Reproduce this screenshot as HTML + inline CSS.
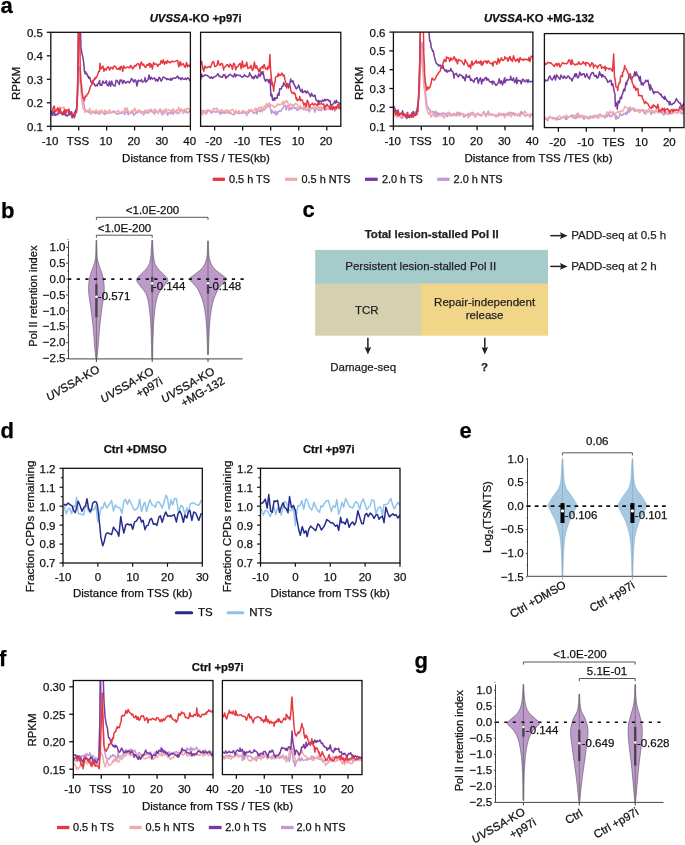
<!DOCTYPE html>
<html><head><meta charset="utf-8"><style>
html,body{margin:0;padding:0;background:#fff;}
body{width:685px;height:845px;overflow:hidden;font-family:"Liberation Sans", sans-serif;}
svg{display:block;will-change:transform;}
text{stroke:currentColor;stroke-width:0.25px;}
</style></head><body>
<svg width="685" height="845" viewBox="0 0 685 845" font-family='"Liberation Sans", sans-serif'><text x="0.5" y="12.6" font-size="22" font-weight="bold" fill="#000">a</text>
<clipPath id="cA1"><rect x="50.80" y="32.30" width="139.60" height="94.00"/></clipPath>
<g clip-path="url(#cA1)">
<path d="M51.20 111.21 L52.30 114.05 L53.40 115.60 L54.50 114.40 L54.70 113.47 L55.60 114.66 L56.70 114.82 L57.80 115.08 L58.90 111.52 L59.50 111.12 L60.00 113.60 L61.10 113.04 L62.20 114.16 L63.30 113.19 L64.20 111.57 L64.40 111.34 L65.50 115.04 L66.60 111.32 L67.70 110.68 L68.80 110.22 L68.90 111.82 L69.90 112.12 L71.00 111.73 L72.10 112.35 L73.20 113.04 L73.70 113.70 L74.30 113.75 L75.40 111.72 L76.50 108.25 L76.60 111.41 L77.60 95.82 L77.80 94.88 L78.70 72.78 L79.00 67.90 L79.80 67.69 L80.20 69.38 L80.90 81.67 L81.40 83.24 L82.00 90.64 L83.10 99.28 L84.20 105.70 L84.90 110.16 L85.30 109.50 L86.40 110.98 L87.50 111.51 L87.90 110.39 L88.60 112.48 L89.70 110.76 L90.80 114.33 L91.90 111.31 L93.00 112.93 L94.10 112.11 L95.20 113.42 L96.30 111.47 L97.40 113.63 L98.50 112.24 L99.60 114.12 L100.00 113.31 L100.70 112.67 L101.80 111.46 L102.90 113.46 L104.00 113.06 L105.10 114.57 L106.20 111.93 L107.30 113.13 L108.40 113.06 L109.50 112.75 L110.60 112.64 L111.70 112.59 L112.80 111.56 L113.90 111.01 L115.00 111.80 L116.10 113.07 L117.20 114.25 L118.30 113.54 L119.40 113.63 L120.50 113.25 L121.60 113.14 L122.70 112.45 L123.80 113.21 L124.90 114.49 L126.00 111.75 L127.10 111.26 L128.20 114.70 L129.30 112.45 L130.40 113.38 L131.50 113.24 L132.60 110.62 L133.70 115.24 L134.80 114.37 L135.90 112.28 L137.00 113.02 L138.10 112.19 L139.20 110.86 L140.00 111.85 L140.30 112.49 L141.40 113.44 L142.50 112.91 L143.60 112.06 L144.70 113.74 L145.80 110.99 L146.90 113.00 L148.00 113.41 L149.10 111.58 L150.20 109.63 L151.30 110.78 L152.40 112.26 L153.50 112.63 L154.60 113.95 L155.70 110.63 L156.80 111.94 L157.90 112.77 L159.00 111.72 L160.10 108.84 L161.20 112.96 L162.30 114.92 L163.40 113.21 L164.50 110.71 L165.60 111.36 L166.70 112.18 L167.80 115.13 L168.90 112.69 L170.00 112.03 L171.10 113.90 L172.20 111.77 L173.30 114.29 L174.40 110.97 L175.50 111.24 L176.60 112.79 L177.70 113.70 L178.80 112.70 L179.90 112.23 L181.00 109.47 L182.10 110.91 L183.20 111.04 L184.30 111.13 L185.40 112.58 L186.50 111.38 L187.60 112.84 L188.70 111.91 L189.80 111.37 L190.50 111.95" fill="none" stroke="#c29ad3" stroke-width="1.5" stroke-linejoin="round"/>
<path d="M51.20 109.82 L52.30 111.63 L53.40 110.58 L54.50 109.94 L54.70 111.76 L55.60 110.36 L56.70 109.64 L57.80 112.07 L58.90 108.81 L59.50 107.66 L60.00 107.13 L61.10 107.39 L62.20 108.09 L63.30 107.50 L64.20 107.18 L64.40 108.37 L65.50 109.67 L66.60 109.77 L67.70 112.13 L67.80 111.40 L68.80 110.47 L69.90 113.01 L71.00 112.74 L71.30 112.59 L72.10 115.48 L73.20 113.88 L74.30 112.23 L75.40 112.77 L76.50 110.19 L77.20 103.15 L77.60 96.40 L78.20 84.19 L78.70 76.61 L79.00 72.24 L79.80 78.77 L80.20 82.76 L80.90 90.74 L81.40 95.90 L82.00 101.18 L83.10 109.00 L84.20 108.74 L84.90 112.49 L85.30 110.48 L86.40 110.86 L87.50 111.46 L87.90 111.91 L88.60 111.18 L89.70 108.31 L90.80 113.55 L91.90 111.35 L93.00 110.85 L94.10 112.57 L95.20 110.86 L96.30 109.75 L97.40 112.26 L98.50 112.15 L99.60 110.49 L100.00 112.68 L100.70 112.05 L101.80 110.05 L102.90 113.83 L104.00 111.86 L105.10 109.99 L106.20 112.06 L107.30 111.61 L108.40 112.70 L109.50 109.63 L110.60 112.76 L111.70 112.61 L112.80 112.26 L113.90 112.13 L115.00 113.04 L116.10 112.24 L117.20 111.44 L118.30 110.15 L119.40 112.70 L120.50 112.51 L121.60 111.59 L122.70 111.37 L123.80 112.11 L124.90 107.82 L126.00 111.53 L127.10 107.80 L128.20 111.39 L129.30 112.45 L130.40 113.53 L131.50 110.40 L132.60 111.56 L133.70 110.88 L134.80 108.02 L135.90 111.90 L137.00 110.90 L138.10 110.99 L139.20 109.64 L140.00 110.81 L140.30 110.97 L141.40 112.54 L142.50 111.23 L143.60 115.44 L144.70 110.30 L145.80 110.48 L146.90 110.75 L148.00 109.75 L149.10 112.80 L150.20 111.65 L151.30 109.12 L152.40 110.93 L153.50 112.30 L154.60 108.91 L155.70 110.97 L156.80 110.45 L157.90 113.83 L159.00 111.30 L160.10 110.20 L161.20 110.00 L162.30 113.22 L163.40 110.11 L164.50 113.73 L165.60 108.65 L166.70 110.45 L167.80 110.38 L168.90 109.76 L170.00 110.40 L171.10 111.59 L172.20 109.79 L173.30 108.77 L174.40 112.43 L175.50 112.59 L176.60 109.74 L177.70 111.04 L178.80 107.24 L179.90 112.00 L181.00 108.86 L182.10 109.88 L183.20 113.46 L184.30 108.93 L185.40 110.62 L186.50 109.17 L187.60 108.14 L188.70 109.04 L189.80 110.92 L190.50 108.84" fill="none" stroke="#f0a9ae" stroke-width="1.5" stroke-linejoin="round"/>
<path d="M51.20 111.55 L52.30 115.19 L53.40 112.19 L54.50 111.41 L54.70 115.08 L55.60 115.28 L56.70 114.33 L57.80 114.02 L58.30 112.71 L58.90 111.91 L60.00 111.64 L61.10 112.57 L61.80 112.30 L62.20 114.67 L63.30 114.52 L64.40 111.68 L65.40 115.36 L65.50 114.09 L66.60 115.67 L67.70 115.95 L68.80 113.96 L68.90 109.94 L69.90 114.76 L71.00 111.71 L72.10 117.80 L72.50 114.25 L73.20 114.77 L74.30 117.76 L75.40 111.16 L76.50 109.36 L77.00 105.24 L77.60 83.99 L77.80 76.12 L78.40 21.36 L78.70 19.67 L79.80 20.78 L80.20 21.29 L80.80 41.44 L80.90 47.59 L82.00 53.47 L83.10 58.14 L84.20 67.46 L84.30 70.79 L85.30 73.93 L85.50 71.61 L86.40 73.57 L87.30 74.41 L87.50 76.18 L88.50 76.16 L88.60 78.29 L89.70 77.33 L90.20 78.65 L90.80 81.65 L91.90 82.85 L92.60 82.21 L93.00 83.62 L94.10 83.72 L95.00 85.33 L95.20 86.06 L96.30 85.24 L97.30 86.02 L97.40 83.92 L98.50 83.63 L99.60 80.52 L100.00 85.31 L100.70 84.57 L101.80 85.30 L102.90 81.01 L104.00 83.28 L105.10 83.02 L106.20 80.73 L107.30 85.29 L108.40 85.71 L109.50 81.25 L110.00 84.17 L110.60 86.32 L111.70 81.09 L112.80 84.78 L113.90 85.68 L115.00 86.04 L116.10 80.30 L117.20 80.69 L118.30 82.77 L119.40 84.36 L120.00 80.01 L120.50 80.79 L121.60 79.94 L122.70 83.58 L123.80 80.47 L124.90 82.21 L125.00 82.32 L126.00 83.14 L127.10 81.76 L128.20 81.53 L129.30 82.87 L130.40 81.60 L131.50 78.48 L132.60 79.66 L133.70 82.08 L134.80 80.66 L135.00 79.79 L135.90 80.78 L137.00 86.07 L138.10 80.16 L139.20 81.03 L140.30 80.93 L141.40 79.61 L142.50 82.10 L143.60 81.46 L144.70 80.61 L145.00 77.54 L145.80 82.04 L146.90 81.11 L148.00 79.55 L149.10 74.93 L150.20 79.45 L151.30 77.36 L152.40 79.00 L153.50 78.44 L154.60 77.81 L155.70 80.94 L156.80 79.30 L157.90 81.18 L159.00 77.27 L160.10 78.55 L161.20 81.18 L162.30 79.30 L162.80 77.43 L163.40 77.10 L164.50 77.54 L165.60 78.35 L166.70 79.61 L167.80 78.59 L168.90 79.57 L170.00 79.64 L171.00 78.31 L171.10 80.36 L172.20 79.46 L173.30 77.92 L174.40 78.02 L175.50 78.34 L176.60 77.15 L177.70 76.17 L178.80 78.64 L179.90 77.75 L181.00 79.73 L182.10 77.74 L183.20 79.02 L184.30 79.26 L185.40 78.16 L186.50 79.39 L187.60 77.85 L188.70 78.43 L189.80 80.65 L190.50 79.97" fill="none" stroke="#773a9e" stroke-width="1.5" stroke-linejoin="round"/>
<path d="M51.20 111.62 L52.30 111.33 L53.40 107.07 L54.50 106.18 L54.70 109.71 L55.60 111.50 L56.70 109.95 L57.80 107.65 L58.30 109.56 L58.90 113.43 L60.00 108.46 L61.10 113.45 L61.80 112.69 L62.20 112.48 L63.30 112.66 L64.40 109.80 L65.40 110.28 L65.50 113.96 L66.60 110.18 L67.70 110.49 L68.80 109.00 L68.90 110.81 L69.90 113.47 L71.00 114.84 L71.90 114.03 L72.10 114.08 L73.20 114.43 L74.30 114.40 L74.90 115.91 L75.40 112.70 L76.50 112.74 L76.60 110.38 L77.50 92.09 L77.60 88.46 L78.20 65.14 L78.60 19.15 L78.70 17.72 L79.60 18.57 L79.80 35.52 L80.20 66.27 L80.90 82.69 L81.00 81.68 L82.00 92.22 L83.10 98.26 L84.20 98.07 L84.30 100.83 L85.30 95.95 L86.10 96.30 L86.40 96.24 L87.50 93.68 L87.90 93.81 L88.60 92.55 L89.70 89.23 L90.20 87.07 L90.80 86.00 L91.90 84.54 L92.60 80.43 L93.00 83.05 L94.10 79.01 L95.00 79.25 L95.20 77.37 L96.30 77.92 L97.30 75.50 L97.40 75.45 L98.50 71.62 L99.10 71.62 L99.60 71.32 L99.90 63.14 L100.70 68.92 L101.00 68.93 L101.80 67.74 L102.90 66.03 L104.00 71.28 L105.10 68.63 L106.20 70.08 L107.30 67.46 L108.40 66.67 L109.50 70.05 L110.00 69.38 L110.60 67.40 L111.70 67.48 L112.80 68.97 L113.90 66.25 L115.00 66.11 L116.10 67.50 L117.20 69.38 L118.30 69.02 L119.40 67.70 L120.00 69.81 L120.50 66.99 L121.60 66.27 L122.70 71.45 L123.80 66.09 L124.90 68.03 L126.00 67.86 L127.10 66.97 L128.20 67.08 L129.30 67.86 L130.00 67.54 L130.40 65.40 L131.50 66.40 L132.60 68.88 L133.70 67.57 L134.80 65.33 L135.90 66.16 L137.00 64.12 L138.10 63.48 L139.20 64.81 L140.00 68.69 L140.30 64.54 L141.40 61.95 L142.50 65.31 L143.60 64.16 L144.70 66.72 L145.80 67.55 L146.90 64.55 L148.00 65.30 L149.10 63.34 L150.00 67.16 L150.20 63.54 L151.30 64.75 L152.40 68.91 L153.50 62.60 L154.60 64.45 L155.70 63.85 L156.80 64.62 L157.00 64.59 L157.90 66.28 L159.00 64.19 L160.10 64.16 L161.20 60.53 L162.30 63.31 L163.40 59.86 L164.50 64.33 L165.60 61.74 L166.70 63.40 L167.50 60.51 L167.80 61.91 L168.90 61.83 L170.00 62.90 L171.10 61.87 L172.20 61.17 L173.30 61.76 L174.40 61.45 L175.50 61.14 L176.60 60.79 L177.70 60.53 L178.80 66.92 L179.90 62.25 L180.50 61.68 L181.00 65.59 L182.10 64.35 L183.20 63.65 L184.30 66.06 L185.40 67.46 L186.50 62.52 L187.60 66.78 L188.70 65.28 L189.80 66.43 L190.50 63.35" fill="none" stroke="#e8383f" stroke-width="1.5" stroke-linejoin="round"/>
</g>
<clipPath id="cA2"><rect x="200.60" y="32.30" width="140.20" height="94.00"/></clipPath>
<g clip-path="url(#cA2)">
<path d="M200.50 112.71 L201.60 113.44 L202.70 110.77 L203.80 110.66 L204.90 112.29 L206.00 114.08 L207.10 112.40 L208.20 110.41 L209.30 110.94 L210.40 111.89 L211.50 113.20 L212.60 111.99 L213.70 111.57 L214.80 111.77 L215.90 112.30 L217.00 111.16 L218.10 112.13 L219.20 112.50 L220.30 114.27 L221.40 112.13 L222.50 113.46 L223.60 110.94 L224.70 113.37 L225.80 112.51 L226.90 111.64 L228.00 112.32 L229.10 113.53 L230.20 111.99 L231.30 113.73 L232.40 114.39 L233.50 114.54 L234.60 114.56 L235.70 110.91 L236.80 112.98 L237.90 111.71 L239.00 113.80 L240.10 112.72 L241.20 112.93 L242.30 113.26 L243.40 111.94 L244.50 112.85 L245.60 111.83 L246.70 115.43 L247.80 112.21 L248.90 112.84 L250.00 110.60 L251.10 110.79 L252.20 111.44 L253.30 113.35 L254.40 113.15 L255.50 112.35 L256.60 111.01 L257.10 114.11 L257.70 110.29 L258.80 110.22 L259.90 111.65 L261.00 109.48 L261.80 110.89 L262.10 111.63 L263.20 109.76 L264.30 109.82 L265.40 108.80 L266.50 107.34 L266.60 104.10 L267.60 105.76 L268.70 106.40 L269.50 103.65 L269.80 106.03 L270.90 110.68 L271.30 113.45 L272.00 110.32 L273.10 111.89 L273.70 113.13 L274.20 113.52 L275.30 111.08 L276.40 115.23 L277.20 111.80 L277.50 113.95 L278.60 111.23 L279.70 110.94 L280.80 111.48 L281.90 109.50 L283.00 108.00 L284.10 105.80 L284.30 106.11 L285.20 105.34 L286.30 110.04 L287.40 105.73 L288.50 104.69 L289.10 110.26 L289.60 109.79 L290.70 107.68 L291.80 109.22 L292.90 107.09 L294.00 107.40 L295.00 108.79 L295.10 108.66 L296.20 107.66 L297.30 110.43 L298.40 109.38 L299.50 108.71 L299.70 107.02 L300.60 108.76 L301.70 108.22 L302.80 108.57 L303.90 109.74 L305.00 108.01 L306.10 109.14 L307.20 109.87 L308.30 109.34 L309.40 111.88 L310.50 106.72 L311.60 108.93 L312.70 107.53 L313.80 109.01 L314.90 112.38 L316.00 107.07 L317.10 108.85 L318.20 110.11 L319.30 109.43 L320.00 110.52 L320.40 107.33 L321.50 110.60 L322.60 108.10 L323.70 107.77 L324.80 110.07 L325.90 109.95 L327.00 108.39 L328.10 108.28 L329.20 109.08 L330.30 109.32 L331.40 109.11 L332.50 108.02 L333.60 106.34 L334.70 111.03 L335.80 109.56 L336.90 107.73 L338.00 107.30 L339.10 108.44 L340.20 108.79 L341.00 106.58" fill="none" stroke="#c29ad3" stroke-width="1.5" stroke-linejoin="round"/>
<path d="M200.50 111.19 L201.60 110.33 L202.70 115.20 L203.80 111.24 L204.90 110.83 L206.00 111.18 L207.10 109.90 L208.20 109.63 L209.30 111.35 L210.40 110.04 L211.50 111.76 L212.60 110.38 L213.70 108.26 L214.80 108.91 L215.90 109.55 L217.00 108.02 L218.10 110.64 L219.20 110.37 L220.30 112.05 L221.40 109.62 L222.50 110.50 L223.60 111.61 L224.70 111.85 L225.80 109.47 L226.90 112.95 L228.00 110.04 L229.10 112.54 L230.20 110.51 L231.30 110.37 L232.40 109.25 L233.50 110.79 L234.60 114.24 L235.70 110.13 L236.80 113.11 L237.90 112.84 L239.00 110.51 L240.10 112.58 L241.20 112.97 L242.30 110.68 L243.40 110.38 L244.50 112.65 L245.60 111.62 L246.70 114.05 L247.80 111.76 L248.90 109.62 L250.00 111.14 L251.10 109.23 L252.20 111.52 L253.30 111.10 L254.40 109.22 L255.50 108.22 L255.90 110.52 L256.60 108.65 L257.70 110.61 L258.80 107.37 L259.90 108.12 L261.00 107.52 L261.80 106.69 L262.10 111.67 L263.20 109.70 L264.30 106.00 L265.40 107.39 L266.50 103.30 L266.60 107.42 L267.60 106.39 L268.70 103.57 L269.50 102.92 L269.80 104.13 L270.90 105.82 L271.30 105.21 L272.00 104.90 L273.10 106.25 L273.70 106.32 L274.20 107.85 L275.30 106.62 L276.40 106.54 L277.50 103.67 L278.40 105.19 L278.60 105.08 L279.70 104.37 L280.80 104.38 L281.90 103.59 L283.00 101.38 L283.10 104.70 L284.10 104.04 L285.20 101.38 L286.10 102.37 L286.30 100.53 L287.40 101.62 L288.50 104.60 L289.10 107.84 L289.60 105.58 L290.70 103.63 L291.80 106.05 L292.90 104.95 L293.80 104.75 L294.00 106.25 L295.10 103.61 L296.20 103.77 L297.30 104.45 L298.40 108.16 L299.50 107.03 L299.70 106.11 L300.60 106.05 L301.70 107.93 L302.80 108.79 L303.90 106.14 L305.00 107.55 L306.10 110.46 L307.20 108.12 L308.30 106.89 L309.40 107.85 L310.50 107.59 L311.60 108.40 L312.70 108.02 L313.80 106.91 L314.90 107.48 L316.00 108.20 L317.10 106.80 L318.20 107.89 L319.30 106.59 L320.00 109.56 L320.40 110.01 L321.50 106.73 L322.60 109.12 L323.70 108.22 L324.80 108.16 L325.90 107.72 L327.00 108.47 L328.10 109.51 L329.20 106.51 L330.30 109.60 L331.40 107.89 L332.50 106.79 L333.60 108.26 L334.70 109.23 L335.80 108.28 L336.90 108.84 L338.00 108.02 L339.10 107.78 L340.20 109.91 L341.00 107.30" fill="none" stroke="#f0a9ae" stroke-width="1.5" stroke-linejoin="round"/>
<path d="M200.50 79.89 L201.60 74.34 L202.70 76.81 L203.80 75.84 L204.90 74.82 L206.00 75.37 L207.10 75.49 L208.20 76.23 L209.30 77.08 L210.40 78.18 L211.50 76.82 L212.60 78.36 L213.70 77.25 L214.80 76.68 L215.90 76.16 L217.00 74.90 L218.10 73.90 L219.20 76.46 L220.30 76.34 L221.40 77.19 L222.50 77.24 L223.60 74.58 L223.70 75.51 L224.70 74.77 L225.80 78.29 L226.90 76.36 L228.00 76.70 L229.10 74.92 L230.20 74.25 L231.30 75.36 L232.40 76.12 L233.50 77.01 L234.60 73.63 L235.70 76.68 L236.80 74.64 L237.90 75.15 L239.00 75.42 L240.10 75.20 L241.20 76.64 L242.30 77.30 L243.40 76.34 L244.50 74.81 L245.60 76.37 L246.70 76.25 L247.80 77.01 L248.90 75.97 L249.70 72.77 L250.00 74.34 L251.10 75.42 L252.20 78.12 L253.30 76.82 L253.60 78.71 L254.40 77.67 L255.50 75.19 L256.60 77.26 L257.10 78.11 L257.70 77.58 L258.80 73.89 L259.90 76.57 L260.70 74.50 L261.00 71.87 L262.10 74.16 L263.00 71.58 L263.20 72.94 L264.30 78.54 L265.40 81.31 L266.50 79.71 L267.60 79.42 L268.70 82.63 L268.90 80.15 L269.80 80.64 L270.10 79.07 L270.90 96.06 L271.10 93.60 L272.00 94.83 L272.50 99.78 L273.10 100.39 L274.20 97.73 L274.90 100.23 L275.30 98.14 L276.40 98.12 L277.20 98.13 L277.50 95.40 L278.60 93.07 L279.00 95.31 L279.70 88.79 L280.80 89.04 L281.40 88.78 L281.90 86.46 L283.00 86.14 L283.70 82.60 L284.10 84.49 L285.20 84.57 L285.50 86.18 L286.30 86.30 L287.40 84.27 L287.90 83.62 L288.50 87.87 L289.60 84.96 L290.70 78.90 L290.80 81.43 L291.80 81.15 L292.60 82.18 L292.90 80.74 L294.00 84.54 L295.00 85.84 L295.10 86.34 L296.20 88.88 L297.30 87.86 L298.40 85.78 L298.60 84.97 L299.50 87.64 L300.60 91.24 L301.70 91.64 L302.10 89.32 L302.80 92.63 L303.90 91.94 L305.00 90.71 L306.10 93.01 L306.80 92.49 L307.20 90.94 L308.30 92.64 L309.40 94.20 L310.50 96.72 L311.60 93.27 L312.70 95.99 L312.80 95.67 L313.80 96.25 L314.90 95.02 L316.00 100.00 L317.10 100.84 L318.20 102.11 L318.70 100.54 L319.30 102.38 L320.40 101.01 L321.50 102.01 L322.60 99.97 L323.70 101.15 L324.60 100.39 L324.80 99.19 L325.90 100.47 L327.00 99.53 L328.10 99.76 L329.20 101.22 L330.30 101.08 L330.50 105.68 L331.40 105.27 L332.50 104.20 L333.60 103.82 L334.70 101.12 L335.80 103.17 L336.40 100.29 L336.90 101.82 L338.00 102.35 L339.10 102.84 L340.20 105.22 L341.00 102.61" fill="none" stroke="#773a9e" stroke-width="1.5" stroke-linejoin="round"/>
<path d="M200.50 64.05 L201.60 61.39 L202.70 67.74 L203.80 71.17 L204.90 65.99 L206.00 67.70 L207.10 67.75 L208.20 66.84 L209.30 66.86 L210.40 67.58 L211.50 64.67 L212.60 62.02 L213.70 61.69 L214.80 66.64 L215.90 66.24 L217.00 65.26 L218.10 60.60 L219.20 64.88 L220.30 65.27 L221.40 63.39 L222.50 63.89 L223.60 69.92 L223.70 68.26 L224.70 67.18 L225.80 66.21 L226.90 64.72 L228.00 64.95 L229.10 67.19 L230.20 64.05 L231.30 65.38 L232.40 69.29 L233.50 63.28 L234.60 64.37 L235.70 69.74 L236.80 66.88 L237.90 66.52 L239.00 64.48 L240.10 63.33 L241.20 68.79 L242.30 61.00 L243.40 67.36 L244.50 65.31 L245.60 66.31 L246.70 62.25 L247.80 68.46 L248.90 67.89 L249.70 67.30 L250.00 67.88 L251.10 65.34 L252.20 69.66 L252.40 70.49 L253.30 68.92 L254.40 62.04 L255.50 67.86 L255.90 68.12 L256.60 65.82 L257.70 68.67 L258.80 71.63 L259.50 69.01 L259.90 71.78 L261.00 67.52 L262.10 66.71 L263.00 68.44 L263.20 66.07 L264.30 64.54 L265.40 68.90 L266.50 68.33 L267.60 69.69 L267.80 66.69 L268.70 66.43 L269.20 67.71 L269.80 55.56 L269.90 54.45 L270.70 71.87 L270.90 72.00 L271.90 84.90 L272.00 81.40 L273.10 86.22 L273.70 91.16 L274.20 85.55 L275.30 80.34 L275.40 77.53 L276.40 76.52 L277.50 76.17 L278.40 73.39 L278.60 75.93 L279.70 74.64 L280.80 75.39 L281.90 73.05 L283.00 74.88 L283.10 76.04 L284.10 74.94 L284.90 79.48 L285.20 80.41 L286.30 84.10 L286.70 87.97 L287.40 85.62 L288.50 85.60 L289.60 85.81 L290.20 86.15 L290.70 89.65 L291.80 93.14 L292.90 92.83 L293.80 92.24 L294.00 93.81 L295.10 93.63 L296.20 98.98 L296.70 97.76 L297.30 100.73 L298.40 99.45 L299.50 99.75 L299.70 96.57 L300.60 100.50 L301.70 99.81 L302.10 99.89 L302.80 101.66 L303.90 105.07 L305.00 103.18 L306.10 106.73 L306.80 104.23 L307.20 100.11 L308.30 102.07 L309.40 107.26 L310.50 104.81 L311.60 104.00 L312.70 103.12 L312.80 104.43 L313.80 105.14 L314.90 103.62 L316.00 104.58 L317.10 105.47 L318.20 102.88 L318.70 104.69 L319.30 103.76 L320.40 104.09 L321.50 103.66 L322.60 104.33 L323.70 104.04 L324.60 109.37 L324.80 105.46 L325.90 106.56 L327.00 104.19 L328.10 106.10 L329.20 106.72 L330.30 109.07 L330.50 109.36 L331.40 105.11 L332.50 109.87 L333.60 106.63 L334.70 109.18 L335.80 106.79 L336.40 108.53 L336.90 106.86 L338.00 104.30 L339.10 108.22 L340.20 106.43 L341.00 106.81" fill="none" stroke="#e8383f" stroke-width="1.5" stroke-linejoin="round"/>
</g>
<clipPath id="cB1"><rect x="393.40" y="32.10" width="139.50" height="94.00"/></clipPath>
<g clip-path="url(#cB1)">
<path d="M393.60 115.78 L394.70 115.39 L395.80 114.07 L396.90 116.78 L398.00 116.17 L399.10 116.39 L400.20 116.32 L401.30 118.25 L402.40 117.57 L402.50 117.98 L403.50 115.93 L404.60 115.58 L405.70 114.72 L406.80 115.56 L407.90 112.28 L409.00 117.67 L410.10 115.63 L411.20 115.42 L411.90 116.33 L412.30 114.57 L413.40 114.88 L414.50 115.06 L415.60 111.58 L416.70 115.31 L417.30 113.01 L417.80 108.41 L418.90 94.84 L419.00 94.33 L420.00 77.56 L420.50 64.84 L421.10 55.52 L422.00 42.44 L422.20 46.82 L423.30 59.26 L423.50 67.42 L424.40 80.09 L425.00 90.38 L425.50 92.09 L426.60 102.99 L426.70 105.50 L427.70 106.58 L428.50 108.52 L428.80 108.97 L429.90 109.58 L431.00 112.02 L432.10 111.98 L433.20 111.44 L434.30 113.43 L435.40 111.36 L435.60 110.98 L436.50 116.14 L437.60 112.35 L438.70 115.44 L439.80 113.42 L440.90 113.44 L442.00 114.58 L442.70 112.93 L443.10 112.95 L444.20 113.78 L445.30 113.57 L446.40 115.01 L447.50 116.61 L448.60 112.61 L449.70 113.01 L450.80 115.13 L451.90 114.83 L453.00 115.63 L454.10 113.25 L455.20 114.99 L456.30 114.18 L457.40 112.17 L458.50 114.86 L459.60 112.28 L460.70 115.01 L461.80 113.75 L462.90 114.10 L464.00 117.13 L465.10 116.35 L466.20 114.96 L467.30 114.93 L468.40 113.45 L469.50 116.06 L470.60 115.28 L471.70 113.38 L472.80 112.37 L473.90 114.53 L475.00 114.32 L476.10 115.68 L477.20 113.26 L478.30 113.46 L479.40 115.16 L480.00 114.74 L480.50 115.84 L481.60 116.06 L482.70 113.45 L483.80 111.55 L484.90 114.66 L486.00 113.64 L487.10 114.89 L488.20 111.08 L489.30 114.43 L490.40 114.67 L491.50 113.82 L492.60 115.20 L493.70 114.66 L494.80 114.82 L495.90 116.18 L497.00 116.17 L498.10 116.04 L499.20 114.97 L500.30 114.66 L501.40 115.20 L502.50 114.87 L503.60 113.51 L504.70 114.95 L505.80 115.62 L506.90 113.90 L508.00 113.01 L509.10 115.16 L510.20 113.44 L511.30 112.48 L512.40 114.07 L513.50 112.50 L514.60 114.80 L515.70 113.70 L516.80 114.46 L517.90 115.81 L519.00 115.78 L520.10 114.21 L521.20 111.42 L522.30 113.70 L523.40 112.81 L524.50 115.45 L525.60 116.29 L526.70 115.18 L527.80 115.10 L528.90 114.98 L530.00 115.13 L531.10 113.77 L532.20 115.39 L533.30 113.84 L533.50 112.75" fill="none" stroke="#c29ad3" stroke-width="1.5" stroke-linejoin="round"/>
<path d="M393.60 115.94 L394.70 115.59 L395.80 114.36 L396.90 117.63 L398.00 113.29 L399.10 115.25 L400.20 116.36 L401.30 116.04 L402.40 116.01 L402.50 113.98 L403.50 117.66 L404.60 114.62 L405.70 115.58 L406.80 115.78 L407.90 115.91 L409.00 115.41 L410.10 118.11 L411.20 116.43 L411.90 117.66 L412.30 114.32 L413.40 116.50 L414.50 115.01 L415.60 115.29 L416.70 114.56 L417.30 114.58 L417.80 108.71 L418.90 97.47 L419.00 96.50 L420.00 75.87 L420.20 71.50 L421.10 53.27 L421.40 48.37 L422.20 58.59 L422.60 68.07 L423.30 76.97 L423.80 85.21 L424.40 89.69 L425.00 94.75 L425.50 99.29 L426.10 105.96 L426.60 107.80 L427.70 111.69 L427.90 112.37 L428.80 114.31 L429.90 111.52 L430.90 117.27 L431.00 114.82 L432.10 115.71 L433.20 113.61 L434.30 116.39 L435.40 114.59 L435.60 117.03 L436.50 116.61 L437.60 116.29 L438.70 115.68 L439.80 115.37 L440.90 115.12 L442.00 116.44 L442.70 115.31 L443.10 115.50 L444.20 118.13 L445.30 115.30 L446.40 114.05 L447.50 112.41 L448.60 112.16 L449.70 115.28 L450.80 116.19 L451.90 113.84 L453.00 113.68 L454.10 114.85 L455.20 115.24 L456.30 116.21 L457.40 114.91 L458.50 114.25 L459.60 115.86 L460.70 113.85 L461.80 113.23 L462.90 113.63 L464.00 114.58 L465.10 114.44 L466.20 114.95 L467.30 114.99 L468.40 117.83 L469.50 115.42 L470.60 112.27 L471.70 113.15 L472.80 115.08 L473.90 113.84 L475.00 117.51 L476.10 114.29 L477.20 114.35 L478.30 114.95 L479.40 114.50 L480.00 115.46 L480.50 114.46 L481.60 115.15 L482.70 114.00 L483.80 111.50 L484.90 115.25 L486.00 116.76 L487.10 113.53 L488.20 114.01 L489.30 115.67 L490.40 114.04 L491.50 114.81 L492.60 114.37 L493.70 115.39 L494.80 114.47 L495.90 117.10 L497.00 114.67 L498.10 114.28 L499.20 112.81 L500.30 114.69 L501.40 113.40 L502.50 115.34 L503.60 115.23 L504.70 117.77 L505.80 113.54 L506.90 114.66 L508.00 115.77 L509.10 112.00 L510.20 115.25 L511.30 116.70 L512.40 114.51 L513.50 114.39 L514.60 115.93 L515.70 114.75 L516.80 114.75 L517.90 115.43 L519.00 113.41 L520.10 116.71 L521.20 113.92 L522.30 114.33 L523.40 113.84 L524.50 111.13 L525.60 112.30 L526.70 113.83 L527.80 114.26 L528.90 115.67 L530.00 117.51 L531.10 115.12 L532.20 114.08 L533.30 113.41 L533.50 115.93" fill="none" stroke="#f0a9ae" stroke-width="1.5" stroke-linejoin="round"/>
<path d="M393.60 105.93 L394.70 108.33 L395.80 111.18 L396.90 110.63 L397.70 110.73 L398.00 110.03 L399.10 114.42 L400.20 113.46 L401.30 113.24 L402.40 113.23 L402.50 110.78 L403.50 115.36 L404.60 113.92 L405.70 115.69 L406.80 118.56 L407.20 115.56 L407.90 115.76 L409.00 117.33 L410.10 115.10 L411.20 115.39 L411.90 113.04 L412.30 113.26 L413.40 111.51 L414.50 115.37 L415.60 115.30 L416.70 111.85 L417.80 104.81 L418.40 100.23 L418.90 90.67 L419.60 67.14 L420.00 45.02 L420.50 21.15 L421.10 22.25 L422.20 18.29 L423.30 21.07 L424.40 21.05 L425.50 20.06 L426.60 21.36 L427.70 22.07 L427.90 20.08 L428.80 29.18 L429.70 41.10 L429.90 40.41 L430.90 43.75 L431.00 46.87 L432.10 49.57 L432.60 51.26 L433.20 50.69 L434.30 56.43 L434.40 56.68 L435.40 60.42 L436.20 63.01 L436.50 63.66 L437.60 64.27 L438.00 64.62 L438.70 66.09 L439.80 65.11 L440.30 65.15 L440.90 65.56 L442.00 68.20 L443.10 65.84 L443.60 68.38 L444.20 69.37 L445.30 71.11 L446.40 69.77 L447.10 72.20 L447.50 71.96 L448.60 70.44 L449.70 70.90 L450.70 69.99 L450.80 68.56 L451.90 71.36 L453.00 71.93 L454.10 78.13 L454.20 74.70 L455.20 74.29 L456.30 73.20 L457.40 75.89 L458.50 76.81 L458.90 76.35 L459.60 74.24 L460.70 75.20 L461.80 75.50 L462.90 78.03 L463.70 76.58 L464.00 77.80 L465.10 80.82 L466.20 74.54 L467.30 77.10 L468.40 77.34 L469.50 75.59 L470.60 80.61 L471.70 79.14 L472.00 80.42 L472.80 80.76 L473.90 82.16 L475.00 78.69 L476.10 78.73 L476.70 77.65 L477.20 77.81 L478.30 83.24 L479.40 79.71 L480.50 77.84 L481.40 82.15 L481.60 83.94 L482.70 79.26 L483.80 80.74 L484.90 78.39 L486.00 77.27 L487.00 80.26 L487.10 78.61 L488.20 78.90 L489.30 81.23 L490.40 82.16 L491.50 81.43 L492.60 84.25 L492.90 81.09 L493.70 81.44 L494.80 83.28 L495.90 85.35 L497.00 84.76 L498.10 82.73 L498.80 81.21 L499.20 78.70 L500.30 83.46 L501.40 80.83 L502.50 84.92 L503.60 81.07 L504.70 77.66 L504.80 82.86 L505.80 80.96 L506.90 79.41 L508.00 80.26 L509.10 79.67 L510.20 79.83 L510.70 76.15 L511.30 79.40 L512.40 80.44 L513.50 77.92 L514.60 82.56 L515.70 80.43 L516.60 77.49 L516.80 83.67 L517.90 80.20 L519.00 80.81 L520.10 80.28 L521.20 83.82 L522.30 80.46 L522.50 79.19 L523.40 79.37 L524.50 81.56 L525.60 81.72 L526.70 79.67 L527.80 82.52 L528.40 79.81 L528.90 81.25 L530.00 81.90 L531.10 81.46 L532.20 81.44 L533.30 81.46 L533.50 80.13" fill="none" stroke="#773a9e" stroke-width="1.5" stroke-linejoin="round"/>
<path d="M393.60 109.61 L394.70 111.93 L395.80 114.83 L396.90 110.70 L397.70 115.13 L398.00 112.97 L399.10 115.59 L400.20 113.47 L401.30 113.75 L402.40 114.67 L402.50 113.07 L403.50 114.19 L404.60 114.20 L405.70 116.99 L406.80 115.54 L407.20 112.56 L407.90 115.69 L409.00 115.49 L410.10 115.13 L411.20 117.23 L411.90 116.72 L412.30 112.76 L413.40 117.15 L414.50 114.34 L415.60 114.33 L416.70 114.19 L417.80 110.47 L417.90 111.50 L418.90 89.00 L419.00 88.72 L420.00 52.27 L420.60 19.29 L421.10 18.93 L422.20 20.56 L423.20 20.84 L423.30 23.68 L423.80 53.68 L424.40 64.98 L424.70 74.85 L425.50 82.85 L425.90 84.88 L426.60 90.51 L427.30 89.02 L427.70 87.02 L428.80 88.84 L429.10 87.16 L429.90 87.19 L430.90 83.88 L431.00 83.99 L432.10 78.09 L433.20 79.34 L434.30 80.11 L435.40 78.47 L435.60 78.24 L436.50 75.67 L437.60 74.72 L438.00 73.83 L438.70 72.22 L439.80 71.72 L440.30 70.69 L440.90 67.06 L442.00 65.93 L442.40 65.59 L443.10 63.24 L444.20 59.48 L445.30 61.23 L445.90 61.62 L446.40 56.94 L447.50 57.90 L448.60 57.66 L449.70 61.41 L450.70 59.44 L450.80 57.70 L451.90 59.91 L453.00 59.31 L454.10 56.66 L455.20 58.72 L455.40 60.87 L456.30 59.16 L457.40 63.78 L458.50 59.46 L459.60 59.85 L460.10 60.26 L460.70 60.84 L461.80 60.99 L462.90 63.37 L464.00 64.89 L464.90 61.46 L465.10 59.53 L466.20 62.00 L467.30 63.45 L468.40 66.62 L469.50 65.76 L469.60 64.88 L470.60 68.39 L471.70 61.41 L472.00 61.12 L472.80 65.16 L473.90 63.76 L475.00 62.65 L476.10 60.48 L476.70 62.97 L477.20 62.97 L478.30 61.70 L479.40 63.22 L480.50 60.97 L481.40 65.33 L481.60 61.62 L482.70 64.77 L483.80 61.43 L484.90 61.11 L486.00 62.07 L486.20 61.01 L487.10 63.36 L488.20 60.62 L489.30 62.12 L489.70 62.99 L490.40 63.51 L491.50 63.91 L492.60 62.53 L492.90 66.11 L493.70 62.46 L494.80 61.29 L495.90 62.25 L497.00 64.39 L498.10 58.33 L498.80 59.91 L499.20 62.89 L500.30 60.40 L501.40 57.79 L502.50 60.54 L503.60 60.17 L504.70 58.63 L504.80 56.76 L505.80 58.49 L506.90 58.07 L508.00 61.34 L509.10 57.54 L510.20 56.42 L510.70 59.90 L511.30 59.03 L512.40 61.64 L513.50 55.72 L514.60 59.46 L515.70 61.46 L516.60 59.64 L516.80 60.44 L517.90 58.75 L519.00 62.46 L520.10 57.58 L521.20 59.55 L522.30 59.23 L522.50 59.27 L523.40 60.43 L524.50 58.96 L525.60 59.27 L526.70 59.85 L527.80 59.34 L528.40 60.43 L528.90 57.37 L530.00 61.56 L531.10 56.15 L532.20 56.18 L533.30 57.71 L533.50 56.99" fill="none" stroke="#e8383f" stroke-width="1.5" stroke-linejoin="round"/>
</g>
<clipPath id="cB2"><rect x="544.40" y="33.60" width="139.60" height="94.00"/></clipPath>
<g clip-path="url(#cB2)">
<path d="M544.50 117.56 L545.60 118.90 L546.70 119.75 L547.80 120.81 L548.90 117.00 L550.00 117.86 L551.10 117.72 L552.20 118.55 L553.30 118.86 L554.40 117.59 L555.50 119.60 L556.60 117.63 L557.00 120.09 L557.70 118.13 L558.80 119.34 L559.90 119.25 L561.00 118.29 L562.10 117.42 L563.20 116.92 L564.30 116.21 L565.40 119.28 L566.50 117.82 L566.70 119.36 L567.60 117.45 L568.70 117.35 L569.80 116.14 L570.90 116.50 L572.00 114.80 L573.10 117.94 L574.20 117.88 L575.30 118.45 L576.40 118.37 L577.50 115.19 L578.50 113.29 L578.60 117.40 L579.70 116.87 L580.80 115.44 L581.90 115.63 L583.00 117.91 L584.10 119.27 L585.20 117.68 L586.30 116.38 L587.40 118.41 L588.50 118.86 L589.60 116.08 L590.00 118.58 L590.70 116.33 L591.80 117.47 L592.90 117.95 L594.00 117.28 L595.10 115.21 L596.20 117.47 L597.30 115.09 L598.40 117.64 L599.50 114.24 L600.60 115.91 L601.70 115.82 L601.80 115.52 L602.80 116.47 L603.90 116.28 L605.00 118.02 L606.10 116.06 L607.20 116.64 L608.30 113.57 L609.40 116.12 L610.10 115.72 L610.50 116.42 L611.60 116.66 L612.70 113.92 L613.70 113.55 L613.80 114.34 L614.90 115.65 L616.00 119.36 L616.60 115.70 L617.10 117.91 L618.20 118.34 L619.30 116.08 L620.40 113.68 L620.80 114.09 L621.50 115.54 L622.60 115.23 L623.70 113.52 L624.80 113.59 L625.50 114.57 L625.90 112.07 L627.00 114.21 L628.10 109.61 L629.20 112.47 L630.20 107.48 L630.30 111.04 L631.40 109.61 L632.50 107.93 L633.60 110.31 L634.70 111.13 L635.00 111.24 L635.80 110.51 L636.90 109.96 L638.00 109.61 L639.10 109.93 L640.20 111.17 L641.30 110.04 L642.10 110.19 L642.40 109.70 L643.50 111.80 L644.60 113.63 L645.70 113.96 L646.80 110.16 L647.90 110.70 L649.00 110.57 L650.10 111.55 L651.20 114.60 L652.30 111.74 L653.40 112.44 L654.50 112.15 L655.60 110.09 L656.70 111.09 L657.80 111.79 L658.70 111.70 L658.90 112.40 L660.00 112.48 L661.10 113.03 L662.20 111.48 L663.30 115.09 L664.40 114.66 L665.50 113.35 L666.60 113.88 L667.00 113.47 L667.70 111.73 L668.80 114.42 L669.90 112.35 L671.00 113.65 L672.10 113.57 L673.20 109.30 L674.10 109.04 L674.30 111.22 L675.40 110.15 L676.50 110.30 L677.60 110.94 L678.70 112.32 L679.80 110.33 L680.90 112.49 L682.00 114.11 L683.10 112.28 L684.20 112.83 L684.50 113.96" fill="none" stroke="#c29ad3" stroke-width="1.5" stroke-linejoin="round"/>
<path d="M544.50 118.03 L545.60 117.93 L546.70 117.94 L547.80 118.85 L548.90 117.79 L550.00 116.08 L551.10 118.21 L552.20 117.43 L553.30 117.43 L554.40 117.76 L554.80 117.88 L555.50 118.93 L556.60 118.21 L557.70 117.44 L558.80 116.31 L559.90 115.87 L561.00 117.27 L562.10 118.44 L563.20 116.80 L564.30 116.51 L565.40 117.17 L566.50 114.68 L566.70 116.03 L567.60 116.99 L568.70 117.45 L569.80 116.11 L570.90 116.85 L572.00 116.70 L573.10 117.34 L574.20 115.06 L575.30 117.08 L576.40 114.58 L577.50 113.26 L578.50 115.67 L578.60 115.31 L579.70 117.51 L580.80 117.32 L581.90 115.11 L583.00 117.65 L584.10 115.49 L585.20 116.65 L586.30 116.45 L587.40 117.00 L588.50 117.90 L589.60 117.75 L590.00 117.42 L590.70 117.67 L591.80 117.30 L592.90 115.81 L594.00 115.53 L595.10 115.66 L596.20 116.65 L597.30 115.59 L598.40 118.52 L599.50 114.57 L600.60 114.06 L601.70 116.14 L601.80 116.91 L602.80 115.52 L603.90 115.60 L605.00 115.99 L606.10 113.84 L607.20 111.93 L608.30 112.68 L609.40 114.15 L610.10 111.07 L610.50 112.72 L611.60 112.65 L612.70 111.63 L613.70 112.57 L613.80 112.43 L614.90 114.86 L616.00 113.17 L617.10 112.04 L617.20 112.13 L618.20 111.41 L619.30 113.12 L620.40 110.87 L621.50 111.04 L622.60 111.59 L623.10 109.63 L623.70 109.55 L624.80 106.59 L625.50 106.80 L625.90 107.32 L627.00 108.22 L628.10 108.87 L629.20 107.13 L630.20 107.21 L630.30 107.15 L631.40 108.80 L632.50 109.12 L633.60 108.93 L634.70 107.94 L635.00 110.38 L635.80 109.96 L636.90 111.26 L638.00 110.03 L639.10 112.69 L639.70 110.07 L640.20 112.45 L641.30 110.76 L642.40 110.09 L643.50 109.44 L644.60 110.70 L645.70 112.67 L646.80 112.03 L647.90 111.96 L649.00 108.37 L650.00 112.15 L650.10 111.97 L651.20 110.66 L652.30 110.59 L653.40 111.37 L654.50 113.46 L655.60 110.15 L656.70 110.92 L657.80 113.09 L658.90 110.94 L660.00 111.06 L661.10 111.64 L662.20 110.05 L663.30 111.83 L664.40 110.14 L665.00 112.66 L665.50 111.60 L666.60 114.33 L667.70 111.92 L668.80 113.22 L669.90 110.01 L671.00 111.42 L672.10 111.95 L673.20 113.65 L674.30 109.54 L675.40 112.74 L676.50 112.25 L677.60 113.38 L678.70 112.38 L679.80 111.59 L680.90 110.89 L682.00 110.02 L683.10 111.74 L684.20 111.27 L684.50 113.92" fill="none" stroke="#f0a9ae" stroke-width="1.5" stroke-linejoin="round"/>
<path d="M544.50 82.25 L545.60 80.09 L546.70 80.40 L547.80 80.48 L548.90 77.33 L550.00 75.86 L550.10 76.59 L551.10 78.91 L552.20 79.94 L553.30 78.18 L554.40 75.46 L555.50 79.98 L556.60 74.67 L557.20 76.47 L557.70 76.37 L558.80 77.86 L559.90 79.39 L561.00 75.08 L562.10 77.17 L563.20 78.34 L564.30 75.92 L565.40 77.86 L566.50 78.44 L567.60 75.97 L568.70 76.13 L569.80 78.37 L570.20 78.11 L570.90 78.37 L572.00 80.95 L573.10 77.91 L574.20 76.34 L575.00 73.79 L575.30 76.61 L576.40 73.81 L577.50 77.92 L578.60 77.38 L579.70 72.07 L580.80 73.59 L580.90 75.27 L581.90 75.02 L583.00 73.67 L584.10 73.84 L585.20 77.26 L586.30 75.24 L586.80 73.60 L587.40 75.72 L588.50 77.85 L589.60 79.06 L590.00 76.31 L590.70 74.97 L591.80 73.03 L592.90 72.42 L593.60 73.51 L594.00 75.20 L595.10 76.47 L596.20 75.23 L597.10 78.20 L597.30 77.93 L598.40 77.00 L599.50 71.67 L600.60 75.33 L601.70 74.55 L601.80 77.26 L602.80 74.85 L603.90 76.47 L605.00 76.51 L605.40 78.35 L606.10 78.52 L607.20 80.57 L607.80 82.24 L608.30 81.50 L609.40 81.58 L610.50 80.18 L611.30 81.07 L611.60 85.16 L612.70 83.68 L613.10 85.27 L613.80 89.11 L614.30 92.21 L614.90 93.45 L615.40 106.31 L616.00 102.56 L617.10 105.29 L617.20 109.20 L618.20 100.94 L619.30 102.83 L619.60 101.25 L620.40 97.10 L621.50 98.58 L622.00 94.99 L622.60 93.96 L623.70 89.44 L624.30 89.09 L624.80 90.86 L625.90 82.73 L626.70 84.76 L627.00 81.53 L628.10 79.90 L629.10 75.29 L629.20 76.56 L630.30 77.77 L631.40 79.89 L632.50 77.31 L633.60 76.27 L633.80 76.24 L634.70 71.85 L635.80 75.69 L636.50 72.05 L636.90 74.65 L638.00 75.62 L639.10 78.82 L639.70 80.80 L640.20 76.37 L641.30 84.73 L642.40 82.70 L643.30 85.16 L643.50 83.60 L644.60 83.00 L645.70 80.23 L646.80 81.43 L647.90 80.14 L649.00 85.45 L650.10 90.19 L650.40 84.80 L651.20 87.63 L652.30 89.27 L653.40 92.98 L653.90 93.61 L654.50 91.81 L655.60 92.22 L656.70 92.16 L657.50 91.87 L657.80 92.09 L658.90 92.87 L660.00 94.15 L661.00 95.23 L661.10 94.12 L662.20 97.33 L663.30 97.27 L664.40 99.31 L664.60 96.28 L665.50 98.09 L666.60 100.29 L667.70 101.46 L668.80 101.52 L669.30 104.82 L669.90 101.84 L671.00 104.63 L672.10 104.57 L673.20 103.38 L674.10 102.96 L674.30 102.99 L675.40 100.94 L676.40 98.49 L676.50 99.63 L677.60 100.72 L678.70 102.38 L679.80 103.12 L680.00 102.77 L680.90 105.16 L682.00 107.77 L683.10 104.28 L684.20 103.05 L684.50 105.31" fill="none" stroke="#773a9e" stroke-width="1.5" stroke-linejoin="round"/>
<path d="M544.50 62.02 L545.60 64.55 L546.70 63.87 L547.80 62.23 L548.90 62.82 L550.00 62.91 L550.10 62.66 L551.10 62.98 L552.20 64.27 L553.30 65.18 L554.40 66.41 L555.50 64.16 L556.60 63.52 L557.20 66.03 L557.70 64.26 L558.80 63.17 L559.90 66.96 L561.00 65.31 L562.10 63.08 L563.20 62.86 L564.30 63.75 L565.40 63.40 L566.50 63.84 L567.60 62.91 L568.70 60.12 L569.80 60.10 L570.90 64.64 L571.40 63.44 L572.00 59.67 L573.10 63.90 L574.20 64.04 L575.30 64.91 L576.40 63.95 L577.50 64.64 L578.50 62.94 L578.60 61.68 L579.70 63.89 L580.80 64.47 L581.90 63.71 L583.00 61.75 L584.10 63.49 L585.20 63.13 L585.60 65.39 L586.30 62.40 L587.40 62.82 L588.50 63.56 L589.60 64.94 L590.00 66.55 L590.70 65.60 L591.80 62.81 L592.90 63.69 L593.60 67.94 L594.00 65.75 L595.10 65.10 L596.20 66.13 L597.10 66.45 L597.30 68.22 L598.40 66.08 L599.50 64.90 L600.60 64.80 L601.70 68.18 L601.80 66.65 L602.80 67.28 L603.90 68.14 L605.00 66.13 L605.40 70.48 L606.10 67.70 L607.20 68.17 L608.30 68.44 L608.90 69.30 L609.40 68.51 L610.50 68.53 L611.60 70.08 L612.50 71.17 L612.70 68.06 L613.70 54.09 L613.80 57.75 L614.50 77.22 L614.90 78.12 L616.00 86.98 L617.10 87.17 L617.80 90.42 L618.20 86.08 L619.30 82.82 L620.20 82.53 L620.40 77.64 L621.50 75.46 L622.50 76.61 L622.60 72.38 L623.70 71.13 L624.80 65.48 L624.90 68.25 L625.90 68.48 L626.70 70.22 L627.00 70.55 L628.10 73.60 L629.10 74.50 L629.20 76.75 L630.30 73.79 L631.40 78.58 L632.50 83.50 L633.60 85.65 L633.80 87.80 L634.70 86.21 L635.80 90.31 L636.20 90.18 L636.90 88.31 L638.00 89.01 L638.60 95.68 L639.10 95.29 L640.20 95.56 L641.30 95.97 L642.10 95.68 L642.40 98.28 L643.50 100.14 L644.60 103.64 L645.70 101.70 L646.80 103.17 L647.90 103.71 L649.00 106.10 L650.10 107.45 L651.20 108.48 L652.30 106.06 L652.80 107.46 L653.40 104.88 L654.50 105.70 L655.60 106.56 L656.70 108.78 L657.80 104.32 L658.70 108.18 L658.90 111.26 L660.00 110.18 L661.10 111.08 L662.20 108.25 L663.30 110.01 L664.40 108.35 L664.60 112.46 L665.50 109.38 L666.60 109.43 L667.70 108.60 L668.80 110.78 L669.90 112.85 L670.50 110.49 L671.00 110.24 L672.10 109.43 L673.20 111.79 L674.30 109.93 L675.40 110.32 L676.40 109.41 L676.50 109.56 L677.60 110.37 L678.70 110.23 L679.80 106.77 L680.90 108.95 L682.00 108.59 L683.10 109.59 L684.20 110.71 L684.50 107.61" fill="none" stroke="#e8383f" stroke-width="1.5" stroke-linejoin="round"/>
</g>
<rect x="50.80" y="32.30" width="139.60" height="94.00" fill="none" stroke="#111" stroke-width="1.3"/>
<line x1="46.80" y1="126.30" x2="50.80" y2="126.30" stroke="#111" stroke-width="1.3"/>
<text x="42.90" y="130.70" font-size="11.5" text-anchor="end" fill="#111" color="#111">0.1</text>
<line x1="46.80" y1="102.80" x2="50.80" y2="102.80" stroke="#111" stroke-width="1.3"/>
<text x="42.90" y="107.20" font-size="11.5" text-anchor="end" fill="#111" color="#111">0.2</text>
<line x1="46.80" y1="79.30" x2="50.80" y2="79.30" stroke="#111" stroke-width="1.3"/>
<text x="42.90" y="83.70" font-size="11.5" text-anchor="end" fill="#111" color="#111">0.3</text>
<line x1="46.80" y1="55.80" x2="50.80" y2="55.80" stroke="#111" stroke-width="1.3"/>
<text x="42.90" y="60.20" font-size="11.5" text-anchor="end" fill="#111" color="#111">0.4</text>
<line x1="46.80" y1="32.30" x2="50.80" y2="32.30" stroke="#111" stroke-width="1.3"/>
<text x="42.90" y="36.70" font-size="11.5" text-anchor="end" fill="#111" color="#111">0.5</text>
<line x1="50.80" y1="126.30" x2="50.80" y2="130.50" stroke="#111" stroke-width="1.3"/>
<text x="50.10" y="144.80" font-size="11.5" text-anchor="middle" fill="#111" color="#111">-10</text>
<line x1="78.72" y1="126.30" x2="78.72" y2="130.50" stroke="#111" stroke-width="1.3"/>
<text x="78.02" y="144.80" font-size="11.5" text-anchor="middle" fill="#111" color="#111">TSS</text>
<line x1="106.64" y1="126.30" x2="106.64" y2="130.50" stroke="#111" stroke-width="1.3"/>
<text x="105.94" y="144.80" font-size="11.5" text-anchor="middle" fill="#111" color="#111">10</text>
<line x1="134.56" y1="126.30" x2="134.56" y2="130.50" stroke="#111" stroke-width="1.3"/>
<text x="133.86" y="144.80" font-size="11.5" text-anchor="middle" fill="#111" color="#111">20</text>
<line x1="162.48" y1="126.30" x2="162.48" y2="130.50" stroke="#111" stroke-width="1.3"/>
<text x="161.78" y="144.80" font-size="11.5" text-anchor="middle" fill="#111" color="#111">30</text>
<line x1="190.40" y1="126.30" x2="190.40" y2="130.50" stroke="#111" stroke-width="1.3"/>
<text x="189.70" y="144.80" font-size="11.5" text-anchor="middle" fill="#111" color="#111">40</text>
<rect x="200.60" y="32.30" width="140.20" height="94.00" fill="none" stroke="#111" stroke-width="1.3"/>
<line x1="214.62" y1="126.30" x2="214.62" y2="130.50" stroke="#111" stroke-width="1.3"/>
<text x="213.92" y="144.80" font-size="11.5" text-anchor="middle" fill="#111" color="#111">-20</text>
<line x1="242.66" y1="126.30" x2="242.66" y2="130.50" stroke="#111" stroke-width="1.3"/>
<text x="241.96" y="144.80" font-size="11.5" text-anchor="middle" fill="#111" color="#111">-10</text>
<line x1="270.70" y1="126.30" x2="270.70" y2="130.50" stroke="#111" stroke-width="1.3"/>
<text x="270.00" y="144.80" font-size="11.5" text-anchor="middle" fill="#111" color="#111">TES</text>
<line x1="298.74" y1="126.30" x2="298.74" y2="130.50" stroke="#111" stroke-width="1.3"/>
<text x="298.04" y="144.80" font-size="11.5" text-anchor="middle" fill="#111" color="#111">10</text>
<line x1="326.78" y1="126.30" x2="326.78" y2="130.50" stroke="#111" stroke-width="1.3"/>
<text x="326.08" y="144.80" font-size="11.5" text-anchor="middle" fill="#111" color="#111">20</text>
<rect x="393.40" y="32.10" width="139.50" height="94.00" fill="none" stroke="#111" stroke-width="1.3"/>
<line x1="389.40" y1="126.10" x2="393.40" y2="126.10" stroke="#111" stroke-width="1.3"/>
<text x="385.50" y="130.50" font-size="11.5" text-anchor="end" fill="#111" color="#111">0.1</text>
<line x1="389.40" y1="107.30" x2="393.40" y2="107.30" stroke="#111" stroke-width="1.3"/>
<text x="385.50" y="111.70" font-size="11.5" text-anchor="end" fill="#111" color="#111">0.2</text>
<line x1="389.40" y1="88.50" x2="393.40" y2="88.50" stroke="#111" stroke-width="1.3"/>
<text x="385.50" y="92.90" font-size="11.5" text-anchor="end" fill="#111" color="#111">0.3</text>
<line x1="389.40" y1="69.70" x2="393.40" y2="69.70" stroke="#111" stroke-width="1.3"/>
<text x="385.50" y="74.10" font-size="11.5" text-anchor="end" fill="#111" color="#111">0.4</text>
<line x1="389.40" y1="50.90" x2="393.40" y2="50.90" stroke="#111" stroke-width="1.3"/>
<text x="385.50" y="55.30" font-size="11.5" text-anchor="end" fill="#111" color="#111">0.5</text>
<line x1="389.40" y1="32.10" x2="393.40" y2="32.10" stroke="#111" stroke-width="1.3"/>
<text x="385.50" y="36.50" font-size="11.5" text-anchor="end" fill="#111" color="#111">0.6</text>
<line x1="393.40" y1="126.10" x2="393.40" y2="130.30" stroke="#111" stroke-width="1.3"/>
<text x="392.70" y="144.60" font-size="11.5" text-anchor="middle" fill="#111" color="#111">-10</text>
<line x1="421.30" y1="126.10" x2="421.30" y2="130.30" stroke="#111" stroke-width="1.3"/>
<text x="420.60" y="144.60" font-size="11.5" text-anchor="middle" fill="#111" color="#111">TSS</text>
<line x1="449.20" y1="126.10" x2="449.20" y2="130.30" stroke="#111" stroke-width="1.3"/>
<text x="448.50" y="144.60" font-size="11.5" text-anchor="middle" fill="#111" color="#111">10</text>
<line x1="477.10" y1="126.10" x2="477.10" y2="130.30" stroke="#111" stroke-width="1.3"/>
<text x="476.40" y="144.60" font-size="11.5" text-anchor="middle" fill="#111" color="#111">20</text>
<line x1="505.00" y1="126.10" x2="505.00" y2="130.30" stroke="#111" stroke-width="1.3"/>
<text x="504.30" y="144.60" font-size="11.5" text-anchor="middle" fill="#111" color="#111">30</text>
<line x1="532.90" y1="126.10" x2="532.90" y2="130.30" stroke="#111" stroke-width="1.3"/>
<text x="532.20" y="144.60" font-size="11.5" text-anchor="middle" fill="#111" color="#111">40</text>
<rect x="544.40" y="33.60" width="139.60" height="94.00" fill="none" stroke="#111" stroke-width="1.3"/>
<line x1="558.36" y1="127.60" x2="558.36" y2="131.80" stroke="#111" stroke-width="1.3"/>
<text x="557.66" y="146.20" font-size="11.5" text-anchor="middle" fill="#111" color="#111">-20</text>
<line x1="586.28" y1="127.60" x2="586.28" y2="131.80" stroke="#111" stroke-width="1.3"/>
<text x="585.58" y="146.20" font-size="11.5" text-anchor="middle" fill="#111" color="#111">-10</text>
<line x1="614.20" y1="127.60" x2="614.20" y2="131.80" stroke="#111" stroke-width="1.3"/>
<text x="613.50" y="146.20" font-size="11.5" text-anchor="middle" fill="#111" color="#111">TES</text>
<line x1="642.12" y1="127.60" x2="642.12" y2="131.80" stroke="#111" stroke-width="1.3"/>
<text x="641.42" y="146.20" font-size="11.5" text-anchor="middle" fill="#111" color="#111">10</text>
<line x1="670.04" y1="127.60" x2="670.04" y2="131.80" stroke="#111" stroke-width="1.3"/>
<text x="669.34" y="146.20" font-size="11.5" text-anchor="middle" fill="#111" color="#111">20</text>
<text x="20.50" y="83.40" font-size="11.5" text-anchor="middle" fill="#111" color="#111" transform="rotate(-90 20.50 83.40)">RPKM</text>
<text x="363.20" y="83.40" font-size="11.5" text-anchor="middle" fill="#111" color="#111" transform="rotate(-90 363.20 83.40)">RPKM</text>
<text x="195.70" y="22.20" font-size="11.3" text-anchor="middle" fill="#111" color="#111" font-weight="bold"><tspan font-style="italic">UVSSA</tspan>-KO +p97i</text>
<text x="539.00" y="22.20" font-size="11.3" text-anchor="middle" fill="#111" color="#111" font-weight="bold"><tspan font-style="italic">UVSSA</tspan>-KO +MG-132</text>
<text x="196.00" y="161.50" font-size="11.5" text-anchor="middle" fill="#111" color="#111">Distance from TSS / TES(kb)</text>
<text x="538.50" y="161.50" font-size="11.5" text-anchor="middle" fill="#111" color="#111">Distance from TSS /TES (kb)</text>
<line x1="212.70" y1="179.30" x2="224.90" y2="179.30" stroke="#e8383f" stroke-width="3.3"/>
<text x="229.00" y="183.20" font-size="10.9" text-anchor="start" fill="#111" color="#111">0.5 h TS</text>
<line x1="285.10" y1="179.30" x2="297.30" y2="179.30" stroke="#f0a9ae" stroke-width="3.3"/>
<text x="301.50" y="183.20" font-size="10.9" text-anchor="start" fill="#111" color="#111">0.5 h NTS</text>
<line x1="365.00" y1="179.30" x2="377.70" y2="179.30" stroke="#773a9e" stroke-width="3.3"/>
<text x="381.90" y="183.20" font-size="10.9" text-anchor="start" fill="#111" color="#111">2.0 h TS</text>
<line x1="437.20" y1="179.30" x2="449.60" y2="179.30" stroke="#c29ad3" stroke-width="3.3"/>
<text x="453.60" y="183.20" font-size="10.9" text-anchor="start" fill="#111" color="#111">2.0 h NTS</text>
<text x="1" y="217.8" font-size="22" font-weight="bold" fill="#000">b</text>
<path d="M96.70 240.20 C96.75 242.28 96.85 249.40 97.00 252.70 C97.15 256.00 97.15 257.57 97.60 260.00 C98.05 262.43 98.98 265.10 99.70 267.30 C100.42 269.50 101.28 271.23 101.90 273.20 C102.52 275.17 103.02 276.90 103.40 279.10 C103.78 281.30 104.10 283.97 104.20 286.40 C104.30 288.83 104.20 291.27 104.00 293.70 C103.80 296.13 103.35 298.55 103.00 301.00 C102.65 303.45 102.27 305.70 101.90 308.40 C101.53 311.10 101.15 314.27 100.80 317.20 C100.45 320.13 100.13 322.58 99.80 326.00 C99.47 329.42 99.12 333.80 98.80 337.70 C98.48 341.60 98.22 345.95 97.90 349.40 C97.58 352.85 97.07 356.90 96.90 358.40 L95.90 358.40 C95.73 356.90 95.22 352.85 94.90 349.40 C94.58 345.95 94.32 341.60 94.00 337.70 C93.68 333.80 93.33 329.42 93.00 326.00 C92.67 322.58 92.35 320.13 92.00 317.20 C91.65 314.27 91.27 311.10 90.90 308.40 C90.53 305.70 90.15 303.45 89.80 301.00 C89.45 298.55 89.00 296.13 88.80 293.70 C88.60 291.27 88.50 288.83 88.60 286.40 C88.70 283.97 89.02 281.30 89.40 279.10 C89.78 276.90 90.28 275.17 90.90 273.20 C91.52 271.23 92.38 269.50 93.10 267.30 C93.82 265.10 94.75 262.43 95.20 260.00 C95.65 257.57 95.65 256.00 95.80 252.70 C95.95 249.40 96.05 242.28 96.10 240.20 Z" fill="#bd9acb" stroke="#5a4f60" stroke-width="0.6"/>
<line x1="96.40" y1="240.20" x2="96.40" y2="358.40" stroke="#6d6470" stroke-width="0.8"/>
<path d="M152.50 240.20 C152.60 241.78 152.93 247.10 153.10 249.70 C153.27 252.30 153.27 253.80 153.50 255.80 C153.73 257.80 154.18 260.23 154.50 261.70 C154.82 263.17 154.95 263.63 155.40 264.60 C155.85 265.57 156.52 266.53 157.20 267.50 C157.88 268.47 158.60 269.42 159.50 270.40 C160.40 271.38 161.58 272.42 162.60 273.40 C163.62 274.38 164.75 275.33 165.60 276.30 C166.45 277.27 167.45 278.23 167.70 279.20 C167.95 280.17 167.58 281.13 167.10 282.10 C166.62 283.07 165.55 284.02 164.80 285.00 C164.05 285.98 163.67 286.55 162.60 288.00 C161.53 289.45 159.47 291.53 158.40 293.70 C157.33 295.87 156.78 298.32 156.20 301.00 C155.62 303.68 155.28 306.63 154.90 309.80 C154.52 312.97 154.18 316.10 153.90 320.00 C153.62 323.90 153.38 328.55 153.20 333.20 C153.02 337.85 152.90 343.70 152.80 347.90 C152.70 352.10 152.63 356.65 152.60 358.40 L151.80 358.40 C151.77 356.65 151.70 352.10 151.60 347.90 C151.50 343.70 151.38 337.85 151.20 333.20 C151.02 328.55 150.78 323.90 150.50 320.00 C150.22 316.10 149.88 312.97 149.50 309.80 C149.12 306.63 148.78 303.68 148.20 301.00 C147.62 298.32 147.07 295.87 146.00 293.70 C144.93 291.53 142.87 289.45 141.80 288.00 C140.73 286.55 140.35 285.98 139.60 285.00 C138.85 284.02 137.78 283.07 137.30 282.10 C136.82 281.13 136.45 280.17 136.70 279.20 C136.95 278.23 137.95 277.27 138.80 276.30 C139.65 275.33 140.78 274.38 141.80 273.40 C142.82 272.42 144.00 271.38 144.90 270.40 C145.80 269.42 146.52 268.47 147.20 267.50 C147.88 266.53 148.55 265.57 149.00 264.60 C149.45 263.63 149.58 263.17 149.90 261.70 C150.22 260.23 150.67 257.80 150.90 255.80 C151.13 253.80 151.13 252.30 151.30 249.70 C151.47 247.10 151.80 241.78 151.90 240.20 Z" fill="#bd9acb" stroke="#5a4f60" stroke-width="0.6"/>
<line x1="152.20" y1="240.20" x2="152.20" y2="358.40" stroke="#6d6470" stroke-width="0.8"/>
<path d="M208.30 240.90 C208.37 242.87 208.45 249.52 208.70 252.70 C208.95 255.88 209.07 257.57 209.80 260.00 C210.53 262.43 211.45 265.10 213.10 267.30 C214.75 269.50 217.62 271.48 219.70 273.20 C221.78 274.92 224.42 276.62 225.60 277.60 C226.78 278.58 227.02 278.37 226.80 279.10 C226.58 279.83 225.60 280.53 224.30 282.00 C223.00 283.47 220.50 285.70 219.00 287.90 C217.50 290.10 216.40 292.52 215.30 295.20 C214.20 297.88 213.18 300.82 212.40 304.00 C211.62 307.18 211.08 310.63 210.60 314.30 C210.12 317.97 209.80 321.60 209.50 326.00 C209.20 330.40 208.98 335.93 208.80 340.70 C208.62 345.47 208.47 352.28 208.40 354.60 L207.60 354.60 C207.53 352.28 207.38 345.47 207.20 340.70 C207.02 335.93 206.80 330.40 206.50 326.00 C206.20 321.60 205.88 317.97 205.40 314.30 C204.92 310.63 204.38 307.18 203.60 304.00 C202.82 300.82 201.80 297.88 200.70 295.20 C199.60 292.52 198.50 290.10 197.00 287.90 C195.50 285.70 193.00 283.47 191.70 282.00 C190.40 280.53 189.42 279.83 189.20 279.10 C188.98 278.37 189.22 278.58 190.40 277.60 C191.58 276.62 194.22 274.92 196.30 273.20 C198.38 271.48 201.25 269.50 202.90 267.30 C204.55 265.10 205.47 262.43 206.20 260.00 C206.93 257.57 207.05 255.88 207.30 252.70 C207.55 249.52 207.63 242.87 207.70 240.90 Z" fill="#bd9acb" stroke="#5a4f60" stroke-width="0.6"/>
<line x1="208.00" y1="240.90" x2="208.00" y2="354.60" stroke="#6d6470" stroke-width="0.8"/>
<line x1="68.50" y1="241.00" x2="68.50" y2="358.60" stroke="#444" stroke-width="1.0"/>
<line x1="66.10" y1="247.30" x2="68.50" y2="247.30" stroke="#444" stroke-width="1.0"/>
<text x="65.50" y="250.90" font-size="11.5" text-anchor="end" fill="#111" color="#111">1.0</text>
<line x1="66.10" y1="263.20" x2="68.50" y2="263.20" stroke="#444" stroke-width="1.0"/>
<text x="65.50" y="266.80" font-size="11.5" text-anchor="end" fill="#111" color="#111">0.5</text>
<line x1="66.10" y1="279.10" x2="68.50" y2="279.10" stroke="#444" stroke-width="1.0"/>
<text x="65.50" y="282.70" font-size="11.5" text-anchor="end" fill="#111" color="#111">0.0</text>
<line x1="66.10" y1="295.00" x2="68.50" y2="295.00" stroke="#444" stroke-width="1.0"/>
<text x="65.50" y="298.60" font-size="11.5" text-anchor="end" fill="#111" color="#111">−0.5</text>
<line x1="66.10" y1="310.90" x2="68.50" y2="310.90" stroke="#444" stroke-width="1.0"/>
<text x="65.50" y="314.50" font-size="11.5" text-anchor="end" fill="#111" color="#111">−1.0</text>
<line x1="66.10" y1="326.80" x2="68.50" y2="326.80" stroke="#444" stroke-width="1.0"/>
<text x="65.50" y="330.40" font-size="11.5" text-anchor="end" fill="#111" color="#111">−1.5</text>
<line x1="66.10" y1="342.70" x2="68.50" y2="342.70" stroke="#444" stroke-width="1.0"/>
<text x="65.50" y="346.30" font-size="11.5" text-anchor="end" fill="#111" color="#111">−2.0</text>
<line x1="66.10" y1="358.60" x2="68.50" y2="358.60" stroke="#444" stroke-width="1.0"/>
<text x="65.50" y="362.20" font-size="11.5" text-anchor="end" fill="#111" color="#111">−2.5</text>
<line x1="67.30" y1="239.35" x2="68.50" y2="239.35" stroke="#444" stroke-width="0.8"/>
<line x1="67.30" y1="255.25" x2="68.50" y2="255.25" stroke="#444" stroke-width="0.8"/>
<line x1="67.30" y1="271.15" x2="68.50" y2="271.15" stroke="#444" stroke-width="0.8"/>
<line x1="67.30" y1="287.05" x2="68.50" y2="287.05" stroke="#444" stroke-width="0.8"/>
<line x1="67.30" y1="302.95" x2="68.50" y2="302.95" stroke="#444" stroke-width="0.8"/>
<line x1="67.30" y1="318.85" x2="68.50" y2="318.85" stroke="#444" stroke-width="0.8"/>
<line x1="67.30" y1="334.75" x2="68.50" y2="334.75" stroke="#444" stroke-width="0.8"/>
<line x1="67.30" y1="350.65" x2="68.50" y2="350.65" stroke="#444" stroke-width="0.8"/>
<line x1="68.30" y1="358.90" x2="242.50" y2="358.90" stroke="#444" stroke-width="1.0"/>
<line x1="96.40" y1="358.60" x2="96.40" y2="362.00" stroke="#444" stroke-width="1.0"/>
<line x1="152.20" y1="358.60" x2="152.20" y2="362.00" stroke="#444" stroke-width="1.0"/>
<line x1="208.00" y1="358.60" x2="208.00" y2="362.00" stroke="#444" stroke-width="1.0"/>
<line x1="68.10" y1="279.10" x2="244.50" y2="279.10" stroke="#111" stroke-width="1.6" stroke-dasharray="3.2 5.42"/>
<line x1="96.40" y1="284.20" x2="96.40" y2="317.20" stroke="#444" stroke-width="2.3"/>
<circle cx="96.40" cy="296.70" r="1.3" fill="#fff"/>
<line x1="152.20" y1="276.80" x2="152.20" y2="292.20" stroke="#444" stroke-width="2.3"/>
<circle cx="152.20" cy="283.40" r="1.3" fill="#fff"/>
<line x1="208.00" y1="280.50" x2="208.00" y2="293.70" stroke="#444" stroke-width="2.3"/>
<circle cx="208.00" cy="283.20" r="1.3" fill="#fff"/>
<text x="97.80" y="300.20" font-size="11.5" text-anchor="start" fill="#111" color="#111">-0.571</text>
<text x="152.80" y="290.00" font-size="11.5" text-anchor="start" fill="#111" color="#111">-0.144</text>
<text x="208.60" y="290.00" font-size="11.5" text-anchor="start" fill="#111" color="#111">-0.148</text>
<path d="M96.40 219.90 V217.30 H208.00 V219.90" fill="none" stroke="#444" stroke-width="0.9"/>
<path d="M96.40 237.80 V235.20 H152.20 V237.80" fill="none" stroke="#444" stroke-width="0.9"/>
<text x="152.50" y="213.90" font-size="11.5" text-anchor="middle" fill="#111" color="#111">&lt;1.0E-200</text>
<text x="124.50" y="231.80" font-size="11.5" text-anchor="middle" fill="#111" color="#111">&lt;1.0E-200</text>
<text x="37.40" y="296.10" font-size="11.1" text-anchor="middle" fill="#111" color="#111" transform="rotate(-90 37.40 296.10)">Pol II retention index</text>
<text x="100.50" y="371.50" font-size="11.5" text-anchor="end" fill="#111" color="#111" transform="rotate(-30 100.50 371.50)"><tspan font-style="italic">UVSSA</tspan>-KO</text>
<text x="154.70" y="373.50" font-size="11.5" text-anchor="end" fill="#111" color="#111" transform="rotate(-30 154.70 373.50)"><tspan font-style="italic">UVSSA</tspan>-KO</text>
<text x="163.50" y="383.50" font-size="11.5" text-anchor="end" fill="#111" color="#111" transform="rotate(-30 163.50 383.50)">+p97i</text>
<text x="215.50" y="373.50" font-size="11.5" text-anchor="end" fill="#111" color="#111" transform="rotate(-30 215.50 373.50)"><tspan font-style="italic">UVSSA</tspan>-KO</text>
<text x="225.50" y="383.00" font-size="11.5" text-anchor="end" fill="#111" color="#111" transform="rotate(-30 225.50 383.00)">+MG-132</text>
<text x="302.5" y="216.9" font-size="22" font-weight="bold" fill="#000">c</text>
<text x="431.70" y="238.20" font-size="11.5" text-anchor="middle" fill="#231f20" color="#231f20" font-weight="bold">Total lesion-stalled Pol II</text>
<rect x="315.2" y="249.9" width="232.8" height="34.2" fill="#a5cbcb"/>
<rect x="315.2" y="283.5" width="106.3" height="52.2" fill="#d5d0b0"/>
<rect x="420.7" y="283.5" width="127.3" height="52.2" fill="#f1d68a"/>
<text x="420.70" y="270.30" font-size="11.5" text-anchor="middle" fill="#231f20" color="#231f20">Persistent lesion-stalled Pol II</text>
<text x="366.80" y="313.70" font-size="11.5" text-anchor="middle" fill="#231f20" color="#231f20">TCR</text>
<text x="484.60" y="306.10" font-size="11.5" text-anchor="middle" fill="#231f20" color="#231f20">Repair-independent</text>
<text x="484.60" y="318.60" font-size="11.5" text-anchor="middle" fill="#231f20" color="#231f20">release</text>
<line x1="550.3" y1="235.65" x2="562.6" y2="235.65" stroke="#231f20" stroke-width="1.5"/>
<path d="M567.6 235.65 L559.9 232.35 L561.3000000000001 235.65 L559.9 238.95000000000002 Z" fill="#231f20"/>
<line x1="550.3" y1="266.4" x2="562.6" y2="266.4" stroke="#231f20" stroke-width="1.5"/>
<path d="M567.6 266.4 L559.9 263.09999999999997 L561.3000000000001 266.4 L559.9 269.7 Z" fill="#231f20"/>
<text x="571.20" y="238.70" font-size="11.5" text-anchor="start" fill="#231f20" color="#231f20">PADD-seq at 0.5 h</text>
<text x="571.20" y="269.80" font-size="11.5" text-anchor="start" fill="#231f20" color="#231f20">PADD-seq at 2 h</text>
<line x1="367.9" y1="337.7" x2="367.9" y2="349.6" stroke="#231f20" stroke-width="1.5"/>
<path d="M367.9 354.6 L364.59999999999997 346.90000000000003 L367.9 348.3 L371.2 346.90000000000003 Z" fill="#231f20"/>
<line x1="484.8" y1="337.7" x2="484.8" y2="349.6" stroke="#231f20" stroke-width="1.5"/>
<path d="M484.8 354.6 L481.5 346.90000000000003 L484.8 348.3 L488.1 346.90000000000003 Z" fill="#231f20"/>
<text x="363.20" y="370.60" font-size="11.5" text-anchor="middle" fill="#231f20" color="#231f20">Damage-seq</text>
<text x="484.60" y="370.60" font-size="11.5" text-anchor="middle" fill="#231f20" color="#231f20" font-weight="bold">?</text>
<text x="0.5" y="437.6" font-size="22" font-weight="bold" fill="#000">d</text>
<clipPath id="c100"><rect x="63.00" y="468.30" width="139.30" height="94.70"/></clipPath>
<g clip-path="url(#c100)">
<path d="M63.92 505.38 L66.23 513.85 L68.15 508.85 L69.69 508.08 L71.62 513.85 L73.54 505.77 L75.08 507.31 L76.62 497.31 L78.15 513.46 L80.46 513.85 L83.54 515.00 L85.08 507.31 L86.62 505.77 L88.54 511.15 L90.46 513.08 L92.38 509.62 L94.31 509.62 L95.85 505.00 L97.77 521.92 L99.69 514.23 L101.23 507.31 L102.77 508.08 L104.69 502.31 L106.62 508.08 L108.92 505.00 L111.23 501.15 L111.54 500.38 L113.46 511.15 L115.38 505.00 L117.31 507.31 L120.00 508.08 L121.92 513.46 L123.85 501.15 L125.38 499.23 L127.31 504.23 L129.23 499.62 L131.54 504.23 L134.23 510.00 L136.54 509.23 L138.08 507.31 L139.62 499.23 L141.54 511.54 L143.85 503.46 L145.00 502.31 L146.54 511.54 L148.46 504.23 L150.00 499.62 L151.92 505.00 L153.85 505.38 L155.38 507.31 L156.92 502.31 L158.85 501.92 L159.92 503.46 L162.23 508.08 L164.15 501.92 L166.08 495.00 L167.62 498.85 L169.15 509.23 L171.08 499.62 L172.62 505.00 L174.54 498.46 L176.46 498.85 L178.38 511.92 L181.08 505.38 L182.62 506.54 L184.92 514.23 L186.85 507.69 L188.38 512.31 L190.31 503.85 L193.38 502.69 L196.46 504.62 L198.77 505.38 L201.08 500.77 L202.46 500.38" fill="none" stroke="#8fc4ea" stroke-width="1.5" stroke-linejoin="round"/>
<path d="M63.92 504.23 L65.85 505.38 L68.15 503.08 L70.08 504.62 L72.00 505.77 L73.54 510.38 L75.08 512.69 L76.62 508.08 L78.15 501.15 L80.08 505.77 L82.00 511.15 L83.92 507.31 L85.46 505.77 L87.00 498.85 L88.54 508.08 L90.08 511.54 L91.62 508.85 L92.77 503.08 L94.69 501.54 L96.23 501.92 L97.38 505.00 L98.54 514.23 L99.69 525.00 L100.85 537.31 L102.77 545.77 L104.31 541.15 L105.85 534.23 L107.38 532.69 L108.92 533.46 L111.23 534.23 L111.54 534.62 L113.46 527.31 L115.38 530.00 L117.31 531.92 L118.85 536.15 L120.77 516.54 L122.31 525.77 L123.85 533.08 L125.77 525.00 L127.69 523.85 L129.62 525.00 L131.15 524.23 L132.69 529.23 L134.62 521.92 L136.54 520.77 L138.46 517.31 L140.00 517.31 L141.54 521.92 L143.08 520.38 L145.00 529.62 L146.54 525.77 L148.08 525.38 L150.00 519.62 L151.54 518.46 L153.46 524.23 L155.38 523.85 L156.92 525.38 L158.85 517.31 L160.31 515.77 L162.23 522.31 L164.15 515.77 L165.69 511.92 L167.62 516.15 L169.54 515.77 L171.46 516.15 L174.15 514.62 L176.46 521.92 L178.00 513.46 L179.92 511.15 L181.46 514.23 L183.38 522.31 L184.92 515.00 L186.85 518.08 L188.38 511.92 L189.92 510.38 L191.85 520.38 L193.77 511.92 L195.69 513.08 L198.77 520.38 L201.08 513.85 L202.46 514.23" fill="none" stroke="#272c8c" stroke-width="1.5" stroke-linejoin="round"/>
</g>
<rect x="63.00" y="468.30" width="139.30" height="94.70" fill="none" stroke="#111" stroke-width="1.3"/>
<line x1="59.50" y1="563.00" x2="63.00" y2="563.00" stroke="#111" stroke-width="1.2"/>
<text x="55.50" y="567.40" font-size="11.5" text-anchor="end" fill="#111" color="#111">0.7</text>
<line x1="59.50" y1="544.06" x2="63.00" y2="544.06" stroke="#111" stroke-width="1.2"/>
<text x="55.50" y="548.46" font-size="11.5" text-anchor="end" fill="#111" color="#111">0.8</text>
<line x1="59.50" y1="525.12" x2="63.00" y2="525.12" stroke="#111" stroke-width="1.2"/>
<text x="55.50" y="529.52" font-size="11.5" text-anchor="end" fill="#111" color="#111">0.9</text>
<line x1="59.50" y1="506.18" x2="63.00" y2="506.18" stroke="#111" stroke-width="1.2"/>
<text x="55.50" y="510.58" font-size="11.5" text-anchor="end" fill="#111" color="#111">1.0</text>
<line x1="59.50" y1="487.24" x2="63.00" y2="487.24" stroke="#111" stroke-width="1.2"/>
<text x="55.50" y="491.64" font-size="11.5" text-anchor="end" fill="#111" color="#111">1.1</text>
<line x1="59.50" y1="468.30" x2="63.00" y2="468.30" stroke="#111" stroke-width="1.2"/>
<text x="55.50" y="472.70" font-size="11.5" text-anchor="end" fill="#111" color="#111">1.2</text>
<line x1="60.80" y1="553.53" x2="63.00" y2="553.53" stroke="#111" stroke-width="1.0"/>
<line x1="60.80" y1="534.59" x2="63.00" y2="534.59" stroke="#111" stroke-width="1.0"/>
<line x1="60.80" y1="515.65" x2="63.00" y2="515.65" stroke="#111" stroke-width="1.0"/>
<line x1="60.80" y1="496.71" x2="63.00" y2="496.71" stroke="#111" stroke-width="1.0"/>
<line x1="60.80" y1="477.77" x2="63.00" y2="477.77" stroke="#111" stroke-width="1.0"/>
<line x1="63.00" y1="563.00" x2="63.00" y2="566.80" stroke="#111" stroke-width="1.2"/>
<text x="63.00" y="581.20" font-size="11.5" text-anchor="middle" fill="#111" color="#111">-10</text>
<line x1="97.83" y1="563.00" x2="97.83" y2="566.80" stroke="#111" stroke-width="1.2"/>
<text x="97.83" y="581.20" font-size="11.5" text-anchor="middle" fill="#111" color="#111">0</text>
<line x1="132.65" y1="563.00" x2="132.65" y2="566.80" stroke="#111" stroke-width="1.2"/>
<text x="132.65" y="581.20" font-size="11.5" text-anchor="middle" fill="#111" color="#111">10</text>
<line x1="167.48" y1="563.00" x2="167.48" y2="566.80" stroke="#111" stroke-width="1.2"/>
<text x="167.48" y="581.20" font-size="11.5" text-anchor="middle" fill="#111" color="#111">20</text>
<line x1="202.30" y1="563.00" x2="202.30" y2="566.80" stroke="#111" stroke-width="1.2"/>
<text x="202.30" y="581.20" font-size="11.5" text-anchor="middle" fill="#111" color="#111">30</text>
<text x="132.65" y="597.30" font-size="11.5" text-anchor="middle" fill="#111" color="#111">Distance from TSS (kb)</text>
<text x="135.20" y="452.90" font-size="11.3" text-anchor="middle" fill="#111" color="#111" font-weight="bold">Ctrl +DMSO</text>
<clipPath id="c200"><rect x="260.50" y="468.30" width="139.50" height="94.70"/></clipPath>
<g clip-path="url(#c200)">
<path d="M261.08 508.85 L263.38 515.00 L265.31 510.38 L267.62 511.15 L270.31 516.54 L272.23 511.15 L273.77 506.15 L275.69 514.62 L277.62 508.08 L279.15 508.08 L281.08 515.00 L283.00 508.08 L284.54 501.54 L286.46 502.69 L288.38 509.62 L290.31 510.38 L291.85 510.38 L293.38 507.31 L295.31 525.38 L296.85 511.15 L298.00 505.77 L299.92 505.77 L301.85 500.77 L303.77 509.23 L305.69 499.23 L306.00 498.85 L307.54 501.15 L309.46 507.31 L311.77 510.00 L314.08 502.31 L315.62 506.92 L317.54 510.38 L319.46 512.31 L321.00 505.77 L322.54 506.92 L324.46 503.46 L326.38 500.77 L328.31 500.38 L329.85 505.77 L331.38 511.54 L333.31 505.77 L335.23 507.31 L336.77 499.62 L338.69 514.23 L340.23 509.62 L342.15 502.31 L343.69 507.31 L345.62 498.46 L347.54 502.31 L349.46 506.54 L352.54 508.08 L354.46 504.23 L355.92 501.54 L357.85 503.46 L359.77 509.62 L361.31 502.69 L363.23 498.85 L364.77 503.46 L366.69 509.62 L368.62 507.31 L370.15 505.77 L372.08 499.62 L374.00 500.38 L375.92 514.23 L378.23 507.69 L380.54 506.92 L382.46 515.38 L384.00 504.62 L385.92 504.62 L387.85 503.85 L390.92 498.46 L392.85 505.77 L394.38 508.85 L396.31 505.00 L398.23 502.31 L399.92 505.77" fill="none" stroke="#8fc4ea" stroke-width="1.5" stroke-linejoin="round"/>
<path d="M261.08 503.46 L263.00 502.69 L265.31 499.23 L267.23 508.08 L268.77 494.62 L270.69 511.15 L272.23 512.31 L274.15 500.77 L275.69 501.54 L277.62 500.38 L279.54 512.31 L281.46 506.54 L283.00 502.69 L284.54 507.31 L286.46 508.85 L288.00 512.69 L289.54 496.54 L291.46 507.69 L293.38 505.38 L295.31 510.38 L296.85 519.62 L298.77 529.62 L300.31 535.38 L302.23 526.54 L304.15 533.08 L305.69 530.77 L306.00 531.15 L307.15 536.54 L308.69 529.62 L310.62 526.15 L313.31 528.46 L315.62 530.77 L317.92 523.85 L319.46 525.38 L321.38 530.00 L323.69 526.92 L325.23 523.85 L326.77 519.62 L328.69 520.77 L330.62 522.69 L332.54 522.69 L334.46 525.00 L335.62 526.15 L337.15 525.00 L338.69 530.38 L340.62 517.31 L341.77 522.69 L343.69 522.31 L345.23 524.23 L347.15 518.85 L349.08 527.31 L350.62 524.23 L352.54 521.92 L354.46 525.00 L355.92 521.92 L357.85 510.77 L359.77 517.31 L361.69 523.46 L363.23 523.85 L365.15 514.62 L366.69 513.46 L368.23 516.54 L370.15 513.08 L372.08 514.62 L374.00 518.46 L375.92 515.00 L377.46 514.62 L379.00 519.23 L380.54 517.31 L382.46 516.15 L384.00 522.69 L385.92 507.31 L387.46 512.31 L389.38 516.92 L390.92 515.38 L392.85 513.85 L394.38 515.38 L395.92 514.62 L397.85 518.08 L399.92 515.00" fill="none" stroke="#272c8c" stroke-width="1.5" stroke-linejoin="round"/>
</g>
<rect x="260.50" y="468.30" width="139.50" height="94.70" fill="none" stroke="#111" stroke-width="1.3"/>
<line x1="257.00" y1="563.00" x2="260.50" y2="563.00" stroke="#111" stroke-width="1.2"/>
<text x="253.00" y="567.40" font-size="11.5" text-anchor="end" fill="#111" color="#111">0.7</text>
<line x1="257.00" y1="544.06" x2="260.50" y2="544.06" stroke="#111" stroke-width="1.2"/>
<text x="253.00" y="548.46" font-size="11.5" text-anchor="end" fill="#111" color="#111">0.8</text>
<line x1="257.00" y1="525.12" x2="260.50" y2="525.12" stroke="#111" stroke-width="1.2"/>
<text x="253.00" y="529.52" font-size="11.5" text-anchor="end" fill="#111" color="#111">0.9</text>
<line x1="257.00" y1="506.18" x2="260.50" y2="506.18" stroke="#111" stroke-width="1.2"/>
<text x="253.00" y="510.58" font-size="11.5" text-anchor="end" fill="#111" color="#111">1.0</text>
<line x1="257.00" y1="487.24" x2="260.50" y2="487.24" stroke="#111" stroke-width="1.2"/>
<text x="253.00" y="491.64" font-size="11.5" text-anchor="end" fill="#111" color="#111">1.1</text>
<line x1="257.00" y1="468.30" x2="260.50" y2="468.30" stroke="#111" stroke-width="1.2"/>
<text x="253.00" y="472.70" font-size="11.5" text-anchor="end" fill="#111" color="#111">1.2</text>
<line x1="258.30" y1="553.53" x2="260.50" y2="553.53" stroke="#111" stroke-width="1.0"/>
<line x1="258.30" y1="534.59" x2="260.50" y2="534.59" stroke="#111" stroke-width="1.0"/>
<line x1="258.30" y1="515.65" x2="260.50" y2="515.65" stroke="#111" stroke-width="1.0"/>
<line x1="258.30" y1="496.71" x2="260.50" y2="496.71" stroke="#111" stroke-width="1.0"/>
<line x1="258.30" y1="477.77" x2="260.50" y2="477.77" stroke="#111" stroke-width="1.0"/>
<line x1="260.50" y1="563.00" x2="260.50" y2="566.80" stroke="#111" stroke-width="1.2"/>
<text x="260.50" y="581.20" font-size="11.5" text-anchor="middle" fill="#111" color="#111">-10</text>
<line x1="295.38" y1="563.00" x2="295.38" y2="566.80" stroke="#111" stroke-width="1.2"/>
<text x="295.38" y="581.20" font-size="11.5" text-anchor="middle" fill="#111" color="#111">0</text>
<line x1="330.25" y1="563.00" x2="330.25" y2="566.80" stroke="#111" stroke-width="1.2"/>
<text x="330.25" y="581.20" font-size="11.5" text-anchor="middle" fill="#111" color="#111">10</text>
<line x1="365.12" y1="563.00" x2="365.12" y2="566.80" stroke="#111" stroke-width="1.2"/>
<text x="365.12" y="581.20" font-size="11.5" text-anchor="middle" fill="#111" color="#111">20</text>
<line x1="400.00" y1="563.00" x2="400.00" y2="566.80" stroke="#111" stroke-width="1.2"/>
<text x="400.00" y="581.20" font-size="11.5" text-anchor="middle" fill="#111" color="#111">30</text>
<text x="330.25" y="597.30" font-size="11.5" text-anchor="middle" fill="#111" color="#111">Distance from TSS (kb)</text>
<text x="328.80" y="452.90" font-size="11.3" text-anchor="middle" fill="#111" color="#111" font-weight="bold">Ctrl +p97i</text>
<text x="33.60" y="526.30" font-size="11.8" text-anchor="middle" fill="#111" color="#111" transform="rotate(-90 33.60 526.30)">Fraction CPDs remaining</text>
<text x="231.00" y="526.30" font-size="11.8" text-anchor="middle" fill="#111" color="#111" transform="rotate(-90 231.00 526.30)">Fraction CPDs remaining</text>
<line x1="176.3" y1="612.8" x2="191.7" y2="612.8" stroke="#272c8c" stroke-width="3" stroke-linecap="round"/>
<text x="198.00" y="615.80" font-size="11.5" text-anchor="start" fill="#111" color="#111">TS</text>
<line x1="228" y1="612.8" x2="242.8" y2="612.8" stroke="#8fc4ea" stroke-width="3" stroke-linecap="round"/>
<text x="249.20" y="615.80" font-size="11.5" text-anchor="start" fill="#111" color="#111">NTS</text>
<text x="459.5" y="437.6" font-size="22" font-weight="bold" fill="#000">e</text>
<path d="M562.85 458.70 C562.94 460.55 563.15 465.98 563.40 469.80 C563.65 473.62 563.82 478.40 564.35 481.60 C564.88 484.80 565.49 486.77 566.60 489.00 C567.71 491.23 569.65 493.02 571.00 495.00 C572.35 496.98 573.72 499.18 574.70 500.90 C575.68 502.62 576.83 503.83 576.90 505.30 C576.97 506.77 575.77 508.22 575.10 509.70 C574.43 511.18 573.77 512.47 572.90 514.20 C572.03 515.93 570.83 517.88 569.90 520.10 C568.97 522.32 568.10 524.78 567.30 527.50 C566.50 530.22 565.65 533.20 565.10 536.40 C564.55 539.60 564.28 543.00 564.00 546.70 C563.72 550.40 563.57 554.17 563.40 558.60 C563.23 563.03 563.05 570.35 562.95 573.30 C562.85 576.25 562.82 575.80 562.80 576.30 L562.20 576.30 C562.18 575.80 562.15 576.25 562.05 573.30 C561.95 570.35 561.77 563.03 561.60 558.60 C561.43 554.17 561.28 550.40 561.00 546.70 C560.72 543.00 560.45 539.60 559.90 536.40 C559.35 533.20 558.50 530.22 557.70 527.50 C556.90 524.78 556.03 522.32 555.10 520.10 C554.17 517.88 552.97 515.93 552.10 514.20 C551.23 512.47 550.57 511.18 549.90 509.70 C549.23 508.22 548.03 506.77 548.10 505.30 C548.17 503.83 549.32 502.62 550.30 500.90 C551.28 499.18 552.65 496.98 554.00 495.00 C555.35 493.02 557.29 491.23 558.40 489.00 C559.51 486.77 560.12 484.80 560.65 481.60 C561.18 478.40 561.35 473.62 561.60 469.80 C561.85 465.98 562.06 460.55 562.15 458.70 Z" fill="#a6c8e0" stroke="#8fb2cc" stroke-width="0.6"/>
<line x1="562.50" y1="458.90" x2="562.50" y2="576.90" stroke="#7fa5c0" stroke-width="0.6"/>
<path d="M632.75 458.70 C632.84 460.55 633.05 465.98 633.30 469.80 C633.55 473.62 633.72 478.40 634.25 481.60 C634.78 484.80 635.39 486.77 636.50 489.00 C637.61 491.23 639.55 493.02 640.90 495.00 C642.25 496.98 643.62 499.18 644.60 500.90 C645.58 502.62 646.73 503.83 646.80 505.30 C646.87 506.77 645.67 508.22 645.00 509.70 C644.33 511.18 643.67 512.47 642.80 514.20 C641.93 515.93 640.73 517.88 639.80 520.10 C638.87 522.32 638.00 524.78 637.20 527.50 C636.40 530.22 635.55 533.20 635.00 536.40 C634.45 539.60 634.18 543.00 633.90 546.70 C633.62 550.40 633.47 554.17 633.30 558.60 C633.12 563.03 632.95 570.35 632.85 573.30 C632.75 576.25 632.72 575.80 632.70 576.30 L632.10 576.30 C632.08 575.80 632.05 576.25 631.95 573.30 C631.85 570.35 631.67 563.03 631.50 558.60 C631.33 554.17 631.18 550.40 630.90 546.70 C630.62 543.00 630.35 539.60 629.80 536.40 C629.25 533.20 628.40 530.22 627.60 527.50 C626.80 524.78 625.93 522.32 625.00 520.10 C624.07 517.88 622.87 515.93 622.00 514.20 C621.13 512.47 620.47 511.18 619.80 509.70 C619.13 508.22 617.93 506.77 618.00 505.30 C618.07 503.83 619.22 502.62 620.20 500.90 C621.18 499.18 622.55 496.98 623.90 495.00 C625.25 493.02 627.19 491.23 628.30 489.00 C629.41 486.77 630.02 484.80 630.55 481.60 C631.08 478.40 631.25 473.62 631.50 469.80 C631.75 465.98 631.96 460.55 632.05 458.70 Z" fill="#a6c8e0" stroke="#8fb2cc" stroke-width="0.6"/>
<line x1="632.40" y1="458.90" x2="632.40" y2="576.90" stroke="#7fa5c0" stroke-width="0.6"/>
<line x1="527.50" y1="458.30" x2="527.50" y2="576.30" stroke="#444" stroke-width="1.0"/>
<line x1="525.90" y1="458.90" x2="527.50" y2="458.90" stroke="#444" stroke-width="1.0"/>
<text x="523.60" y="462.50" font-size="11.5" text-anchor="end" fill="#111" color="#111">1.0</text>
<line x1="525.90" y1="482.50" x2="527.50" y2="482.50" stroke="#444" stroke-width="1.0"/>
<text x="523.60" y="486.10" font-size="11.5" text-anchor="end" fill="#111" color="#111">0.5</text>
<line x1="525.90" y1="506.10" x2="527.50" y2="506.10" stroke="#444" stroke-width="1.0"/>
<text x="523.60" y="509.70" font-size="11.5" text-anchor="end" fill="#111" color="#111">0.0</text>
<line x1="525.90" y1="529.70" x2="527.50" y2="529.70" stroke="#444" stroke-width="1.0"/>
<text x="523.60" y="533.30" font-size="11.5" text-anchor="end" fill="#111" color="#111">−0.5</text>
<line x1="525.90" y1="553.30" x2="527.50" y2="553.30" stroke="#444" stroke-width="1.0"/>
<text x="523.60" y="556.90" font-size="11.5" text-anchor="end" fill="#111" color="#111">−1.0</text>
<line x1="525.90" y1="576.90" x2="527.50" y2="576.90" stroke="#444" stroke-width="1.0"/>
<text x="523.60" y="580.50" font-size="11.5" text-anchor="end" fill="#111" color="#111">−1.5</text>
<line x1="526.50" y1="470.70" x2="527.50" y2="470.70" stroke="#444" stroke-width="0.8"/>
<line x1="526.50" y1="494.30" x2="527.50" y2="494.30" stroke="#444" stroke-width="0.8"/>
<line x1="526.50" y1="517.90" x2="527.50" y2="517.90" stroke="#444" stroke-width="0.8"/>
<line x1="526.50" y1="541.50" x2="527.50" y2="541.50" stroke="#444" stroke-width="0.8"/>
<line x1="526.50" y1="565.10" x2="527.50" y2="565.10" stroke="#444" stroke-width="0.8"/>
<line x1="527.50" y1="576.30" x2="667.00" y2="576.30" stroke="#444" stroke-width="1.0"/>
<line x1="562.50" y1="576.30" x2="562.50" y2="579.50" stroke="#8fb2cc" stroke-width="1.0"/>
<line x1="632.40" y1="576.30" x2="632.40" y2="579.50" stroke="#8fb2cc" stroke-width="1.0"/>
<line x1="526.80" y1="506.10" x2="666.50" y2="506.10" stroke="#111" stroke-width="1.6" stroke-dasharray="3.8 4.15"/>
<rect x="560.50" y="503.1" width="4.0" height="19.9" fill="#000"/>
<circle cx="562.50" cy="510.9" r="1.7" fill="#fff"/>
<rect x="630.40" y="503.1" width="4.0" height="19.9" fill="#000"/>
<circle cx="632.40" cy="510.9" r="1.7" fill="#fff"/>
<text x="564.80" y="518.50" font-size="11.5" text-anchor="start" fill="#111" color="#111">-0.106</text>
<text x="634.80" y="518.50" font-size="11.5" text-anchor="start" fill="#111" color="#111">-0.101</text>
<path d="M562.50 455.40 V452.80 H632.40 V455.40" fill="none" stroke="#444" stroke-width="0.9"/>
<text x="597.30" y="445.30" font-size="11.5" text-anchor="middle" fill="#111" color="#111">0.06</text>
<text x="490.50" y="517.00" font-size="11.5" text-anchor="middle" fill="#111" color="#111" transform="rotate(-90 490.50 517.00)">Log<tspan font-size="7.5" dy="2.5">2</tspan><tspan dy="-2.5">(TS/NTS)</tspan></text>
<text x="566.80" y="587.00" font-size="11.5" text-anchor="end" fill="#111" color="#111" transform="rotate(-30 566.80 587.00)">Ctrl +DMSO</text>
<text x="635.50" y="587.50" font-size="11.5" text-anchor="end" fill="#111" color="#111" transform="rotate(-30 635.50 587.50)">Ctrl +p97i</text>
<text x="-1" y="666.4" font-size="22" font-weight="bold" fill="#000">f</text>
<clipPath id="cF1"><rect x="73.30" y="680.50" width="139.70" height="94.10"/></clipPath>
<g clip-path="url(#cF1)">
<path d="M73.20 758.56 L74.30 760.24 L75.40 760.31 L76.50 761.36 L77.30 759.88 L77.60 761.09 L78.70 760.22 L79.80 758.16 L80.30 760.41 L80.90 757.70 L82.00 755.72 L83.10 756.08 L83.80 755.13 L84.20 755.12 L85.30 755.82 L86.20 753.67 L86.40 756.10 L87.50 753.90 L88.60 755.41 L89.70 755.03 L89.80 752.72 L90.80 755.73 L91.90 756.72 L92.10 757.59 L93.00 755.29 L94.10 758.99 L95.20 759.99 L95.70 757.59 L96.30 759.21 L97.40 760.40 L98.50 756.38 L98.60 759.37 L99.60 728.27 L99.80 725.79 L100.60 677.23 L100.70 676.89 L101.60 696.82 L101.80 698.04 L102.90 722.57 L103.00 724.89 L104.00 742.44 L104.50 748.88 L105.10 753.44 L106.20 758.10 L106.30 757.81 L107.30 758.91 L108.40 759.07 L108.70 758.36 L109.50 758.95 L110.60 755.74 L111.10 756.59 L111.70 756.81 L112.80 754.64 L113.40 755.08 L113.90 755.79 L115.00 755.56 L115.80 760.74 L116.10 757.95 L117.20 758.01 L118.20 752.12 L118.30 757.73 L119.40 756.11 L120.50 756.08 L121.60 755.90 L122.70 756.08 L123.80 751.26 L124.90 753.64 L125.90 749.39 L126.00 752.61 L127.10 751.37 L128.20 752.29 L129.30 751.54 L130.40 749.14 L131.50 749.52 L131.80 750.74 L132.60 750.00 L133.70 751.10 L134.80 750.37 L135.90 753.36 L137.00 756.47 L137.80 754.97 L138.10 754.20 L139.20 752.41 L140.30 753.85 L141.40 755.94 L142.50 754.48 L143.60 755.64 L143.70 754.24 L144.70 754.23 L145.80 754.98 L146.90 754.10 L148.00 753.93 L149.10 755.03 L149.60 754.33 L150.20 751.82 L151.30 755.23 L152.40 756.09 L153.50 754.23 L154.60 753.03 L155.50 751.97 L155.70 752.22 L156.80 752.17 L157.90 752.74 L159.00 750.67 L160.10 749.52 L161.20 747.45 L161.40 748.81 L162.30 748.36 L163.40 752.66 L164.50 751.69 L165.60 751.96 L166.70 755.28 L167.30 755.77 L167.80 753.53 L168.90 751.76 L170.00 755.06 L171.10 752.91 L172.20 754.39 L173.10 752.12 L173.30 752.91 L174.40 752.88 L175.50 751.89 L176.60 751.45 L177.70 754.00 L178.80 752.00 L179.90 754.01 L180.20 753.14 L181.00 752.13 L182.10 752.13 L183.20 750.40 L184.30 750.14 L185.40 750.14 L186.50 749.50 L187.30 747.93 L187.60 749.84 L188.70 748.93 L189.80 750.19 L190.90 747.23 L192.00 750.77 L193.10 748.23 L194.20 749.78 L195.30 749.52 L196.40 747.24 L197.50 749.21 L198.60 751.44 L199.10 751.94 L199.70 750.05 L200.80 752.57 L201.90 752.34 L203.00 750.46 L203.90 753.18 L204.10 751.44 L205.20 749.76 L206.30 752.44 L207.40 751.92 L208.50 751.37 L209.60 750.48 L210.70 751.47 L211.80 753.79 L212.90 751.69 L213.50 750.96" fill="none" stroke="#c29ad3" stroke-width="1.5" stroke-linejoin="round"/>
<path d="M73.20 761.20 L74.30 763.44 L75.40 765.98 L76.10 766.54 L76.50 769.15 L77.60 767.84 L78.50 769.12 L78.70 767.72 L79.80 766.87 L80.90 763.16 L82.00 762.74 L83.10 762.39 L83.80 760.58 L84.20 760.83 L85.30 761.66 L86.40 762.65 L87.40 763.86 L87.50 763.48 L88.60 762.91 L89.70 763.37 L90.80 762.25 L90.90 760.77 L91.90 763.94 L93.00 760.70 L94.10 765.37 L94.50 761.42 L95.20 761.85 L96.30 763.00 L97.40 765.30 L98.00 763.38 L98.50 764.31 L99.60 762.33 L99.80 760.06 L100.70 753.61 L101.00 752.04 L101.80 754.15 L102.20 754.19 L102.90 756.70 L103.70 762.50 L104.00 762.92 L105.10 766.91 L106.20 763.15 L106.90 759.97 L107.30 760.65 L108.40 764.09 L108.70 765.80 L109.50 765.34 L110.60 764.23 L111.10 764.32 L111.70 763.75 L112.80 760.89 L113.40 762.23 L113.90 759.28 L115.00 760.96 L116.10 759.90 L117.00 757.61 L117.20 761.49 L118.30 762.16 L119.40 761.04 L120.00 757.93 L120.50 756.57 L121.60 759.58 L122.70 758.39 L123.80 756.56 L124.90 755.81 L125.90 753.95 L126.00 756.11 L127.10 753.04 L128.20 753.40 L129.30 754.39 L130.40 755.84 L131.50 754.64 L131.80 754.87 L132.60 755.55 L133.70 755.41 L134.80 754.23 L135.90 755.66 L137.00 755.93 L137.80 755.41 L138.10 756.09 L139.20 756.27 L140.30 754.97 L141.40 755.04 L142.50 757.05 L143.60 758.06 L143.70 758.38 L144.70 758.95 L145.80 758.16 L146.90 758.14 L148.00 757.51 L149.10 756.95 L149.60 754.94 L150.20 757.89 L151.30 758.54 L152.40 757.33 L153.50 759.18 L154.60 758.28 L155.50 757.11 L155.70 755.87 L156.80 757.58 L157.90 756.89 L159.00 753.16 L160.10 754.77 L161.20 755.19 L161.40 752.70 L162.30 756.12 L163.40 753.90 L164.50 755.03 L165.60 754.13 L166.70 755.06 L167.30 755.22 L167.80 757.41 L168.90 756.68 L170.00 759.18 L171.10 758.97 L172.20 757.36 L173.30 757.86 L174.40 755.21 L175.50 754.95 L176.60 755.59 L177.70 753.79 L178.80 754.30 L179.90 754.71 L180.00 754.11 L181.00 754.10 L182.10 753.61 L183.20 755.21 L184.30 754.29 L185.40 751.47 L186.50 755.28 L187.60 756.00 L188.70 754.93 L189.80 755.35 L190.00 753.03 L190.90 756.03 L192.00 754.93 L193.10 754.19 L194.20 755.87 L195.30 754.96 L196.40 753.69 L197.50 754.77 L198.60 755.46 L199.70 754.66 L200.00 755.46 L200.80 754.17 L201.90 752.74 L203.00 756.16 L204.10 755.20 L205.20 755.16 L206.30 752.52 L207.40 754.31 L208.50 755.84 L209.60 753.69 L210.70 752.88 L211.80 756.76 L212.90 754.03 L213.50 754.61" fill="none" stroke="#f0a9ae" stroke-width="1.5" stroke-linejoin="round"/>
<path d="M73.20 755.28 L74.30 755.14 L75.40 754.68 L76.50 756.89 L77.30 757.55 L77.60 755.73 L78.70 757.01 L79.80 756.01 L80.30 758.72 L80.90 758.22 L82.00 760.65 L83.10 762.37 L83.80 758.48 L84.20 757.62 L85.30 758.96 L86.40 758.58 L87.40 758.80 L87.50 760.74 L88.60 759.38 L89.70 759.61 L90.80 756.66 L90.90 758.41 L91.90 758.04 L93.00 760.94 L94.10 760.00 L94.50 759.65 L95.20 760.62 L96.30 762.88 L96.90 762.61 L97.40 760.88 L98.50 758.71 L99.00 758.86 L99.60 733.97 L99.80 723.14 L100.40 667.70 L100.70 670.79 L101.80 670.14 L102.90 671.19 L103.00 670.90 L104.00 701.45 L105.10 717.31 L106.20 723.84 L106.90 726.57 L107.30 727.68 L108.40 737.02 L108.70 737.67 L109.50 737.84 L110.60 741.62 L111.10 742.02 L111.70 743.80 L112.80 745.53 L113.40 746.58 L113.90 745.28 L115.00 747.36 L115.80 745.39 L116.10 745.58 L117.20 747.14 L118.20 750.45 L118.30 751.10 L119.30 751.69 L119.40 752.17 L120.50 751.05 L121.10 748.92 L121.60 748.12 L122.70 750.13 L123.60 751.73 L123.80 752.68 L124.90 752.48 L126.00 751.10 L127.10 752.12 L128.20 750.55 L129.30 751.36 L129.50 751.22 L130.40 753.75 L131.50 751.13 L132.60 752.25 L133.70 754.73 L134.20 757.35 L134.80 754.50 L135.90 755.33 L137.00 757.38 L138.10 759.37 L139.20 756.35 L140.10 758.50 L140.30 759.27 L141.40 757.50 L142.50 754.95 L143.60 755.47 L144.70 752.43 L145.80 750.01 L146.00 750.68 L146.90 752.99 L148.00 753.02 L149.10 753.51 L150.20 753.10 L151.30 754.43 L152.00 759.02 L152.40 756.09 L153.50 755.52 L154.60 754.88 L155.70 755.57 L156.70 751.07 L156.80 753.36 L157.90 753.19 L159.00 750.63 L160.10 750.89 L161.20 751.62 L161.40 748.44 L162.30 749.43 L163.40 752.39 L164.50 750.66 L165.60 753.63 L166.00 752.48 L166.70 752.23 L167.80 754.17 L168.90 756.00 L170.00 754.66 L171.10 754.03 L171.90 753.42 L172.20 753.72 L173.30 753.35 L174.40 754.03 L175.50 754.89 L176.60 756.07 L177.70 754.82 L177.80 757.27 L178.80 756.82 L179.90 753.40 L181.00 752.42 L181.40 750.03 L182.10 748.27 L183.20 750.31 L184.30 750.52 L185.40 750.58 L186.10 750.94 L186.50 752.83 L187.60 752.40 L188.70 753.49 L189.80 753.59 L190.90 751.58 L192.00 755.96 L193.10 753.76 L194.20 755.03 L195.30 753.58 L196.40 754.49 L196.80 753.25 L197.50 751.79 L198.60 751.09 L199.70 751.39 L200.80 752.34 L201.50 752.47 L201.90 752.72 L203.00 751.24 L204.10 753.39 L205.20 751.56 L206.20 751.87 L206.30 752.22 L207.40 753.10 L208.50 752.16 L209.60 751.81 L210.70 753.73 L211.80 755.20 L212.90 753.76 L213.50 753.83" fill="none" stroke="#773a9e" stroke-width="1.5" stroke-linejoin="round"/>
<path d="M73.20 760.40 L74.30 758.96 L75.40 757.44 L76.50 758.14 L77.30 759.92 L77.60 758.36 L78.70 757.71 L79.80 761.07 L80.30 758.36 L80.90 764.23 L82.00 765.94 L82.70 763.94 L83.10 768.63 L84.20 762.53 L85.00 756.57 L85.30 758.08 L86.40 757.65 L87.50 759.62 L88.60 761.89 L89.70 760.67 L90.80 765.31 L91.90 766.61 L92.10 761.92 L93.00 764.11 L94.10 761.04 L95.10 766.22 L95.20 764.88 L96.30 765.79 L97.40 766.09 L98.50 766.91 L99.20 768.74 L99.60 760.47 L100.40 748.92 L100.70 739.32 L101.60 713.69 L101.80 711.01 L102.20 692.90 L102.90 714.60 L103.00 715.64 L103.70 743.46 L104.00 746.14 L105.10 749.92 L106.20 751.28 L106.60 750.37 L107.30 748.76 L108.40 747.53 L108.70 744.26 L109.50 744.88 L110.60 742.83 L111.10 739.82 L111.70 742.31 L112.80 737.57 L113.40 738.55 L113.90 733.43 L115.00 731.68 L115.80 731.45 L116.10 729.56 L117.20 726.69 L117.60 728.16 L118.30 727.14 L119.30 726.71 L119.40 727.70 L120.50 723.02 L121.10 721.43 L121.60 715.93 L122.40 715.93 L122.70 715.27 L123.80 715.96 L124.90 714.52 L126.00 710.52 L127.10 713.17 L128.20 709.50 L129.30 712.25 L130.40 713.08 L131.50 713.84 L131.80 715.08 L132.60 714.02 L133.70 717.10 L134.80 717.76 L135.90 715.62 L137.00 719.25 L137.80 719.27 L138.10 716.70 L139.20 720.24 L140.30 718.79 L141.40 715.81 L142.50 716.47 L143.60 715.81 L143.70 716.61 L144.70 720.50 L145.80 718.94 L146.90 717.59 L148.00 722.81 L148.40 719.42 L149.10 720.02 L150.20 719.01 L151.30 719.77 L152.40 718.39 L153.10 718.43 L153.50 718.93 L154.60 719.22 L155.70 720.29 L156.80 717.47 L157.90 717.92 L159.00 719.51 L160.10 721.68 L161.20 719.45 L162.30 721.40 L162.60 720.99 L163.40 718.68 L164.50 720.20 L165.60 718.45 L166.00 717.09 L166.70 716.78 L167.80 715.98 L168.90 715.67 L170.00 717.23 L170.70 714.67 L171.10 715.65 L172.20 718.85 L173.30 719.39 L174.40 720.54 L175.50 719.93 L176.10 722.36 L176.60 721.74 L177.70 719.61 L178.80 713.46 L179.90 715.41 L181.00 714.05 L181.40 711.87 L182.10 713.15 L183.20 712.87 L184.30 713.50 L185.40 717.58 L186.10 717.14 L186.50 717.30 L187.60 718.37 L188.70 718.59 L189.80 712.83 L190.90 716.50 L192.00 715.89 L193.10 716.63 L194.20 714.36 L195.30 715.29 L196.40 713.45 L196.80 707.98 L197.50 716.56 L198.60 714.15 L199.70 716.60 L200.80 716.94 L201.50 715.73 L201.90 714.61 L203.00 714.25 L204.10 714.82 L205.20 713.90 L206.20 712.39 L206.30 714.10 L207.40 711.41 L208.50 711.34 L208.60 710.08 L209.60 710.19 L210.70 711.55 L211.80 711.95 L212.90 710.54 L213.50 712.92" fill="none" stroke="#e8383f" stroke-width="1.5" stroke-linejoin="round"/>
</g>
<clipPath id="cF2"><rect x="222.40" y="680.50" width="139.60" height="94.10"/></clipPath>
<g clip-path="url(#cF2)">
<path d="M222.40 755.47 L223.50 756.93 L224.60 757.14 L225.70 755.65 L226.80 755.72 L227.90 758.05 L229.00 755.14 L230.10 756.24 L230.50 755.21 L231.20 756.58 L232.30 756.64 L233.40 757.08 L234.50 756.86 L235.60 754.10 L236.70 754.33 L237.60 754.08 L237.80 754.39 L238.90 755.84 L240.00 755.99 L241.10 755.69 L242.20 756.37 L242.30 760.56 L243.30 755.25 L244.40 759.57 L245.50 754.98 L246.60 754.83 L247.00 755.58 L247.70 755.73 L248.80 756.34 L249.90 755.92 L251.00 756.57 L251.80 757.65 L252.10 758.45 L253.20 758.07 L254.30 759.12 L255.40 758.32 L256.50 761.04 L257.60 754.44 L258.70 756.87 L259.80 757.08 L260.90 756.01 L261.20 756.46 L262.00 756.58 L263.10 758.07 L264.20 756.40 L265.30 756.62 L266.40 755.76 L267.50 757.31 L268.00 756.78 L268.60 757.69 L269.70 756.86 L270.80 757.65 L271.90 756.62 L273.00 755.70 L274.10 756.45 L275.20 756.41 L276.30 758.41 L277.40 756.99 L278.50 757.63 L279.60 758.41 L279.80 757.90 L280.70 757.09 L281.80 757.88 L282.90 755.00 L284.00 758.81 L285.10 757.12 L286.20 756.07 L286.90 759.25 L287.30 758.35 L288.40 757.83 L289.30 761.51 L289.50 761.30 L290.60 754.34 L291.70 748.12 L292.80 756.53 L293.40 761.92 L293.90 760.80 L295.00 766.29 L296.10 762.58 L297.00 760.88 L297.20 760.65 L298.30 760.37 L299.40 758.41 L300.00 758.89 L300.50 761.22 L301.60 757.74 L302.70 759.84 L303.50 760.52 L303.80 760.14 L304.90 759.97 L306.00 759.60 L307.10 760.15 L308.20 758.94 L309.30 759.15 L310.40 758.69 L311.50 759.44 L311.80 755.79 L312.60 759.09 L313.70 756.66 L314.80 757.50 L315.90 758.27 L317.00 757.04 L318.10 758.88 L319.20 758.67 L319.90 759.46 L320.30 759.74 L321.40 757.61 L322.50 761.86 L323.60 760.14 L324.70 760.98 L325.80 759.76 L326.90 759.33 L328.00 761.44 L329.10 760.56 L330.20 757.90 L331.30 760.56 L331.80 760.14 L332.40 757.18 L333.50 756.60 L334.60 758.50 L335.70 757.93 L336.80 758.87 L337.70 759.95 L337.90 760.25 L339.00 757.53 L340.10 757.15 L341.20 760.18 L342.30 758.27 L343.40 757.82 L344.50 760.22 L344.80 759.17 L345.60 758.30 L346.70 759.98 L347.80 758.57 L348.90 760.27 L350.00 760.30 L351.10 759.82 L352.00 758.33 L352.20 759.43 L353.30 761.59 L354.40 760.86 L355.50 760.37 L356.60 758.11 L357.70 760.31 L358.80 757.95 L359.90 758.76 L361.00 759.29 L362.10 760.68 L362.50 757.56" fill="none" stroke="#c29ad3" stroke-width="1.5" stroke-linejoin="round"/>
<path d="M222.40 759.17 L223.50 757.95 L224.60 758.91 L225.70 757.64 L226.80 755.07 L227.90 757.91 L228.10 756.42 L229.00 758.20 L230.10 758.40 L231.20 759.11 L232.30 756.96 L232.80 756.03 L233.40 757.07 L234.50 757.05 L235.60 754.04 L236.70 755.86 L237.80 755.22 L238.80 757.44 L238.90 756.46 L240.00 755.85 L241.10 755.59 L242.20 754.11 L243.30 750.98 L244.40 751.00 L244.70 752.34 L245.50 752.60 L246.60 754.46 L247.70 758.52 L248.80 760.57 L249.40 760.46 L249.90 760.24 L251.00 761.24 L252.10 759.12 L253.20 758.04 L254.10 759.41 L254.30 760.17 L255.40 756.77 L256.50 757.18 L257.60 758.53 L258.70 757.43 L258.90 758.22 L259.80 757.75 L260.90 759.78 L262.00 754.50 L263.10 756.88 L263.60 755.15 L264.20 754.09 L265.30 756.00 L266.40 756.96 L267.50 759.24 L268.00 758.25 L268.60 757.43 L269.70 757.38 L270.80 758.69 L271.90 759.14 L273.00 757.20 L274.10 758.68 L275.10 758.62 L275.20 758.09 L276.30 757.63 L277.40 757.31 L278.50 756.61 L279.60 755.90 L280.70 756.39 L281.80 755.87 L282.20 755.57 L282.90 754.98 L284.00 757.97 L285.10 757.36 L286.20 761.83 L286.90 761.64 L287.30 757.38 L288.40 757.55 L289.50 751.15 L289.90 749.33 L290.60 748.55 L291.70 746.23 L292.80 751.44 L293.40 756.10 L293.90 753.96 L295.00 758.38 L295.80 761.96 L296.10 760.52 L297.20 760.49 L298.30 757.96 L298.80 758.02 L299.40 756.31 L300.50 753.63 L301.60 751.84 L301.70 750.04 L302.70 753.16 L303.80 754.92 L304.70 755.90 L304.90 755.77 L306.00 756.44 L307.10 758.92 L308.20 757.77 L309.30 758.76 L309.40 759.03 L310.40 757.29 L311.50 759.42 L312.60 760.19 L313.00 757.72 L313.70 760.52 L314.80 758.40 L315.90 758.34 L317.00 758.52 L318.10 756.17 L318.70 755.39 L319.20 756.58 L320.30 759.15 L321.40 757.87 L322.50 759.17 L323.60 761.56 L324.70 762.40 L325.80 765.52 L326.90 763.50 L328.00 763.06 L329.10 761.95 L330.20 759.80 L331.30 761.74 L331.80 760.91 L332.40 760.43 L333.50 759.41 L334.60 761.45 L335.70 761.51 L336.80 760.98 L337.70 759.58 L337.90 758.53 L339.00 759.51 L340.10 759.37 L341.20 760.86 L342.30 764.01 L343.40 761.28 L344.50 764.45 L344.80 762.01 L345.60 763.35 L346.70 761.19 L347.80 763.11 L348.90 761.38 L350.00 763.22 L350.70 762.78 L351.10 763.81 L352.20 763.83 L353.30 760.89 L354.40 761.41 L355.50 759.86 L356.60 759.06 L357.70 759.74 L358.80 758.65 L359.90 760.60 L361.00 759.18 L362.10 760.74 L362.50 759.46" fill="none" stroke="#f0a9ae" stroke-width="1.5" stroke-linejoin="round"/>
<path d="M222.40 751.48 L223.50 752.60 L224.60 753.22 L225.70 750.88 L226.80 753.26 L227.90 752.27 L229.00 751.65 L229.30 751.20 L230.10 752.67 L231.20 752.17 L232.30 752.65 L233.40 750.49 L234.50 752.73 L235.20 754.97 L235.60 752.95 L236.70 750.35 L237.80 749.94 L238.90 751.20 L239.90 751.23 L240.00 748.02 L241.10 751.20 L242.20 749.50 L243.30 752.40 L244.40 755.14 L244.70 752.03 L245.50 754.12 L246.60 751.89 L247.70 752.30 L248.80 751.98 L249.40 751.19 L249.90 750.89 L251.00 752.75 L252.10 752.67 L253.20 752.15 L254.10 749.75 L254.30 751.14 L255.40 750.87 L256.50 751.78 L257.60 753.15 L258.70 755.66 L258.90 754.04 L259.80 755.23 L260.90 753.33 L262.00 753.34 L263.10 754.32 L263.60 751.70 L264.20 751.61 L265.30 751.62 L266.40 754.09 L267.50 755.44 L268.00 757.27 L268.60 753.72 L269.70 750.89 L270.80 752.28 L271.90 750.80 L272.10 750.10 L273.00 751.09 L274.10 755.12 L275.10 755.22 L275.20 757.41 L276.30 755.30 L277.40 755.56 L278.50 755.29 L279.60 752.80 L279.80 753.92 L280.70 750.38 L281.80 747.25 L282.20 748.02 L282.90 748.38 L284.00 748.11 L285.10 749.10 L285.80 750.18 L286.20 748.23 L287.30 750.56 L288.40 746.94 L288.70 747.75 L289.50 747.03 L290.60 748.15 L290.70 749.39 L291.70 737.61 L292.00 731.12 L292.80 740.65 L293.10 743.03 L293.90 747.09 L295.00 754.68 L295.20 754.29 L296.10 750.12 L297.20 751.02 L298.30 753.19 L298.80 755.11 L299.40 754.54 L300.50 752.47 L301.60 747.44 L302.30 746.69 L302.70 747.34 L303.80 744.42 L304.90 748.49 L305.90 746.76 L306.00 742.29 L307.10 745.94 L308.20 743.75 L309.30 743.96 L309.40 742.43 L310.40 742.96 L311.50 743.29 L312.60 741.14 L313.00 741.58 L313.70 743.35 L314.80 740.10 L315.90 742.24 L316.50 742.32 L317.00 740.48 L318.10 741.47 L319.20 741.12 L319.90 739.93 L320.30 740.67 L321.40 743.51 L322.50 743.07 L323.50 746.00 L323.60 745.46 L324.70 747.03 L325.80 747.24 L326.90 748.95 L327.00 750.33 L328.00 748.06 L329.10 748.99 L330.20 745.06 L330.60 746.54 L331.30 750.15 L332.40 751.56 L332.90 751.17 L333.50 752.56 L334.60 748.42 L335.30 750.08 L335.70 748.19 L336.80 749.34 L337.90 749.23 L338.90 748.38 L339.00 750.78 L340.10 752.49 L341.20 751.75 L342.30 754.05 L343.40 753.42 L343.60 754.42 L344.50 753.26 L345.60 754.53 L346.70 756.37 L347.10 757.04 L347.80 754.75 L348.90 753.39 L350.00 753.96 L350.70 752.68 L351.10 754.13 L352.20 755.38 L353.30 755.58 L354.20 757.63 L354.40 756.66 L355.50 755.68 L356.60 757.13 L357.70 756.50 L358.80 756.95 L359.00 758.63 L359.90 757.15 L361.00 758.09 L362.10 757.65 L362.50 755.85" fill="none" stroke="#773a9e" stroke-width="1.5" stroke-linejoin="round"/>
<path d="M222.40 715.01 L223.50 716.75 L224.60 712.98 L225.70 717.00 L226.80 718.84 L227.90 714.22 L229.00 712.31 L229.30 710.30 L230.10 713.23 L231.20 711.95 L232.30 713.82 L233.40 710.92 L234.50 714.69 L235.60 715.28 L235.80 710.67 L236.70 714.09 L237.80 715.54 L238.90 715.09 L240.00 714.87 L241.10 714.72 L242.20 715.86 L243.30 716.59 L244.40 716.21 L245.50 717.35 L245.90 719.10 L246.60 720.10 L247.70 716.59 L248.80 713.80 L249.40 715.26 L249.90 718.09 L251.00 716.51 L252.10 719.59 L253.00 721.30 L253.20 722.80 L254.30 718.67 L255.40 717.83 L256.50 717.58 L257.60 716.46 L258.70 717.09 L259.80 718.01 L260.90 717.62 L261.20 720.40 L262.00 719.58 L263.10 720.73 L263.60 722.24 L264.20 719.70 L265.30 721.20 L266.00 715.75 L266.40 718.03 L267.50 722.05 L268.00 719.60 L268.60 720.38 L269.70 723.42 L270.80 721.23 L271.90 722.99 L273.00 722.36 L273.90 722.83 L274.10 726.20 L275.20 721.41 L276.30 722.28 L277.40 719.52 L278.50 721.75 L278.70 718.57 L279.60 720.01 L280.70 722.41 L281.80 722.56 L282.20 721.46 L282.90 720.33 L284.00 718.14 L285.10 719.85 L285.80 719.59 L286.20 714.20 L287.30 715.61 L288.40 718.36 L289.50 717.40 L289.90 719.84 L290.60 715.13 L291.10 709.38 L291.70 699.08 L292.00 697.01 L292.80 710.67 L293.10 711.17 L293.90 725.40 L294.60 731.02 L295.00 733.38 L296.10 736.07 L296.40 735.44 L297.20 734.25 L298.30 732.00 L298.80 733.34 L299.40 732.20 L300.50 730.12 L301.60 725.21 L301.70 723.38 L302.70 727.38 L303.50 728.36 L303.80 733.02 L304.90 738.03 L305.90 737.44 L306.00 735.04 L307.10 736.90 L308.20 740.57 L309.30 742.86 L309.40 742.53 L310.40 745.58 L311.50 741.04 L311.80 738.70 L312.60 744.33 L313.70 746.23 L314.20 746.11 L314.80 752.12 L315.90 747.61 L317.00 747.94 L318.10 750.97 L319.20 753.84 L319.30 751.94 L320.30 756.49 L321.40 754.88 L322.30 751.64 L322.50 752.64 L323.60 755.43 L324.70 757.30 L325.80 760.37 L326.90 759.56 L328.00 757.99 L329.10 754.67 L329.40 756.16 L330.20 759.66 L331.30 759.22 L332.40 760.38 L332.90 760.93 L333.50 760.86 L334.60 758.86 L335.70 756.57 L336.50 756.53 L336.80 757.71 L337.90 757.63 L339.00 756.33 L340.00 756.34 L340.10 759.70 L341.20 754.84 L342.30 759.43 L343.40 758.37 L343.60 759.60 L344.50 761.34 L345.60 758.44 L346.70 756.99 L347.10 760.47 L347.80 758.86 L348.90 759.69 L350.00 758.56 L351.10 758.82 L351.90 758.07 L352.20 754.82 L353.30 758.20 L354.40 758.92 L355.50 759.22 L356.60 759.89 L357.70 758.35 L358.80 758.52 L359.90 758.44 L361.00 758.12 L362.10 757.18 L362.50 756.42" fill="none" stroke="#e8383f" stroke-width="1.5" stroke-linejoin="round"/>
</g>
<rect x="73.30" y="680.50" width="139.70" height="94.10" fill="none" stroke="#111" stroke-width="1.3"/>
<line x1="69.30" y1="769.21" x2="73.30" y2="769.21" stroke="#111" stroke-width="1.3"/>
<text x="65.40" y="773.61" font-size="11.5" text-anchor="end" fill="#111" color="#111">0.15</text>
<line x1="69.30" y1="741.74" x2="73.30" y2="741.74" stroke="#111" stroke-width="1.3"/>
<text x="65.40" y="746.14" font-size="11.5" text-anchor="end" fill="#111" color="#111">0.20</text>
<line x1="69.30" y1="714.28" x2="73.30" y2="714.28" stroke="#111" stroke-width="1.3"/>
<text x="65.40" y="718.68" font-size="11.5" text-anchor="end" fill="#111" color="#111">0.25</text>
<line x1="69.30" y1="686.82" x2="73.30" y2="686.82" stroke="#111" stroke-width="1.3"/>
<text x="65.40" y="691.22" font-size="11.5" text-anchor="end" fill="#111" color="#111">0.30</text>
<line x1="73.30" y1="774.60" x2="73.30" y2="778.80" stroke="#111" stroke-width="1.3"/>
<text x="72.60" y="792.60" font-size="11.5" text-anchor="middle" fill="#111" color="#111">-10</text>
<line x1="101.24" y1="774.60" x2="101.24" y2="778.80" stroke="#111" stroke-width="1.3"/>
<text x="100.54" y="792.60" font-size="11.5" text-anchor="middle" fill="#111" color="#111">TSS</text>
<line x1="129.18" y1="774.60" x2="129.18" y2="778.80" stroke="#111" stroke-width="1.3"/>
<text x="128.48" y="792.60" font-size="11.5" text-anchor="middle" fill="#111" color="#111">10</text>
<line x1="157.12" y1="774.60" x2="157.12" y2="778.80" stroke="#111" stroke-width="1.3"/>
<text x="156.42" y="792.60" font-size="11.5" text-anchor="middle" fill="#111" color="#111">20</text>
<line x1="185.06" y1="774.60" x2="185.06" y2="778.80" stroke="#111" stroke-width="1.3"/>
<text x="184.36" y="792.60" font-size="11.5" text-anchor="middle" fill="#111" color="#111">30</text>
<line x1="213.00" y1="774.60" x2="213.00" y2="778.80" stroke="#111" stroke-width="1.3"/>
<text x="212.30" y="792.60" font-size="11.5" text-anchor="middle" fill="#111" color="#111">40</text>
<rect x="222.40" y="680.50" width="139.60" height="94.10" fill="none" stroke="#111" stroke-width="1.3"/>
<line x1="236.36" y1="774.60" x2="236.36" y2="778.80" stroke="#111" stroke-width="1.3"/>
<text x="235.66" y="792.60" font-size="11.5" text-anchor="middle" fill="#111" color="#111">-20</text>
<line x1="264.28" y1="774.60" x2="264.28" y2="778.80" stroke="#111" stroke-width="1.3"/>
<text x="263.58" y="792.60" font-size="11.5" text-anchor="middle" fill="#111" color="#111">-10</text>
<line x1="292.20" y1="774.60" x2="292.20" y2="778.80" stroke="#111" stroke-width="1.3"/>
<text x="291.50" y="792.60" font-size="11.5" text-anchor="middle" fill="#111" color="#111">TES</text>
<line x1="320.12" y1="774.60" x2="320.12" y2="778.80" stroke="#111" stroke-width="1.3"/>
<text x="319.42" y="792.60" font-size="11.5" text-anchor="middle" fill="#111" color="#111">10</text>
<line x1="348.04" y1="774.60" x2="348.04" y2="778.80" stroke="#111" stroke-width="1.3"/>
<text x="347.34" y="792.60" font-size="11.5" text-anchor="middle" fill="#111" color="#111">20</text>
<text x="36.40" y="730.00" font-size="11.5" text-anchor="middle" fill="#111" color="#111" transform="rotate(-90 36.40 730.00)">RPKM</text>
<text x="217.70" y="671.10" font-size="11.3" text-anchor="middle" fill="#111" color="#111" font-weight="bold">Ctrl +p97i</text>
<text x="217.50" y="809.50" font-size="11.5" text-anchor="middle" fill="#111" color="#111">Distance from TSS / TES (kb)</text>
<line x1="57.00" y1="827.50" x2="69.40" y2="827.50" stroke="#e8383f" stroke-width="3.3"/>
<text x="73.00" y="831.40" font-size="10.9" text-anchor="start" fill="#111" color="#111">0.5 h TS</text>
<line x1="129.40" y1="827.50" x2="141.60" y2="827.50" stroke="#f0a9ae" stroke-width="3.3"/>
<text x="145.40" y="831.40" font-size="10.9" text-anchor="start" fill="#111" color="#111">0.5 h NTS</text>
<line x1="208.80" y1="827.50" x2="221.60" y2="827.50" stroke="#773a9e" stroke-width="3.3"/>
<text x="225.30" y="831.40" font-size="10.9" text-anchor="start" fill="#111" color="#111">2.0 h TS</text>
<line x1="281.00" y1="827.50" x2="293.60" y2="827.50" stroke="#c29ad3" stroke-width="3.3"/>
<text x="296.50" y="831.40" font-size="10.9" text-anchor="start" fill="#111" color="#111">2.0 h NTS</text>
<text x="414.5" y="667.5" font-size="22" font-weight="bold" fill="#000">g</text>
<path d="M523.70 684.50 C523.78 686.23 523.88 691.43 524.20 694.90 C524.52 698.37 524.80 702.32 525.60 705.30 C526.40 708.28 527.38 710.57 529.00 712.80 C530.62 715.03 533.57 717.10 535.30 718.70 C537.03 720.30 538.83 721.40 539.40 722.40 C539.97 723.40 539.75 723.33 538.70 724.70 C537.65 726.07 534.72 728.37 533.10 730.60 C531.48 732.83 530.05 735.37 529.00 738.10 C527.95 740.83 527.42 743.77 526.80 747.00 C526.18 750.23 525.72 753.28 525.30 757.50 C524.88 761.72 524.52 767.83 524.30 772.30 C524.08 776.77 524.08 779.58 524.00 784.30 C523.92 789.02 523.83 797.88 523.80 800.60 L523.00 800.60 C522.97 797.88 522.88 789.02 522.80 784.30 C522.72 779.58 522.72 776.77 522.50 772.30 C522.28 767.83 521.92 761.72 521.50 757.50 C521.08 753.28 520.62 750.23 520.00 747.00 C519.38 743.77 518.85 740.83 517.80 738.10 C516.75 735.37 515.32 732.83 513.70 730.60 C512.08 728.37 509.15 726.07 508.10 724.70 C507.05 723.33 506.83 723.40 507.40 722.40 C507.97 721.40 509.77 720.30 511.50 718.70 C513.23 717.10 516.18 715.03 517.80 712.80 C519.42 710.57 520.40 708.28 521.20 705.30 C522.00 702.32 522.28 698.37 522.60 694.90 C522.92 691.43 523.02 686.23 523.10 684.50 Z" fill="#bd9acb" stroke="#5a4f60" stroke-width="0.6"/>
<line x1="523.40" y1="684.50" x2="523.40" y2="800.60" stroke="#6d6470" stroke-width="0.8"/>
<path d="M579.60 694.10 C579.67 695.72 579.75 700.93 580.05 703.80 C580.35 706.67 580.66 709.07 581.40 711.30 C582.14 713.53 583.62 715.22 584.50 717.20 C585.38 719.18 586.13 721.22 586.70 723.20 C587.27 725.18 587.72 726.88 587.90 729.10 C588.08 731.32 588.03 733.52 587.80 736.50 C587.57 739.48 586.98 743.27 586.50 747.00 C586.02 750.73 585.48 754.68 584.90 758.90 C584.32 763.12 583.57 768.08 583.00 772.30 C582.43 776.52 581.95 780.23 581.50 784.20 C581.05 788.17 580.60 793.17 580.30 796.10 C580.00 799.03 579.80 800.85 579.70 801.80 L578.90 801.80 C578.80 800.85 578.60 799.03 578.30 796.10 C578.00 793.17 577.55 788.17 577.10 784.20 C576.65 780.23 576.17 776.52 575.60 772.30 C575.03 768.08 574.28 763.12 573.70 758.90 C573.12 754.68 572.58 750.73 572.10 747.00 C571.62 743.27 571.03 739.48 570.80 736.50 C570.57 733.52 570.52 731.32 570.70 729.10 C570.88 726.88 571.33 725.18 571.90 723.20 C572.47 721.22 573.22 719.18 574.10 717.20 C574.98 715.22 576.46 713.53 577.20 711.30 C577.94 709.07 578.25 706.67 578.55 703.80 C578.85 700.93 578.92 695.72 579.00 694.10 Z" fill="#bd9acb" stroke="#5a4f60" stroke-width="0.6"/>
<line x1="579.30" y1="694.10" x2="579.30" y2="801.80" stroke="#6d6470" stroke-width="0.8"/>
<path d="M635.50 684.50 C635.58 686.73 635.70 694.18 636.00 697.90 C636.30 701.62 636.73 704.08 637.30 706.80 C637.87 709.52 638.67 711.47 639.40 714.20 C640.13 716.93 641.22 720.47 641.70 723.20 C642.18 725.93 642.27 727.88 642.30 730.60 C642.33 733.32 642.15 736.28 641.90 739.50 C641.65 742.72 641.23 746.18 640.80 749.90 C640.37 753.62 639.78 757.58 639.30 761.80 C638.83 766.02 638.37 770.73 637.95 775.20 C637.53 779.67 637.19 784.17 636.80 788.60 C636.41 793.03 635.80 799.60 635.60 801.80 L634.80 801.80 C634.60 799.60 633.99 793.03 633.60 788.60 C633.21 784.17 632.87 779.67 632.45 775.20 C632.03 770.73 631.58 766.02 631.10 761.80 C630.62 757.58 630.03 753.62 629.60 749.90 C629.17 746.18 628.75 742.72 628.50 739.50 C628.25 736.28 628.07 733.32 628.10 730.60 C628.13 727.88 628.22 725.93 628.70 723.20 C629.18 720.47 630.27 716.93 631.00 714.20 C631.73 711.47 632.53 709.52 633.10 706.80 C633.67 704.08 634.10 701.62 634.40 697.90 C634.70 694.18 634.82 686.73 634.90 684.50 Z" fill="#bd9acb" stroke="#5a4f60" stroke-width="0.6"/>
<line x1="635.20" y1="684.50" x2="635.20" y2="801.80" stroke="#6d6470" stroke-width="0.8"/>
<line x1="495.50" y1="684.40" x2="495.50" y2="802.40" stroke="#444" stroke-width="1.0"/>
<line x1="494.00" y1="690.27" x2="495.50" y2="690.27" stroke="#444" stroke-width="1.0"/>
<text x="492.20" y="693.87" font-size="11.5" text-anchor="end" fill="#111" color="#111">1.0</text>
<line x1="494.00" y1="706.28" x2="495.50" y2="706.28" stroke="#444" stroke-width="1.0"/>
<text x="492.20" y="709.88" font-size="11.5" text-anchor="end" fill="#111" color="#111">0.5</text>
<line x1="494.00" y1="722.30" x2="495.50" y2="722.30" stroke="#444" stroke-width="1.0"/>
<text x="492.20" y="725.90" font-size="11.5" text-anchor="end" fill="#111" color="#111">0.0</text>
<line x1="494.00" y1="738.31" x2="495.50" y2="738.31" stroke="#444" stroke-width="1.0"/>
<text x="492.20" y="741.91" font-size="11.5" text-anchor="end" fill="#111" color="#111">−0.5</text>
<line x1="494.00" y1="754.33" x2="495.50" y2="754.33" stroke="#444" stroke-width="1.0"/>
<text x="492.20" y="757.93" font-size="11.5" text-anchor="end" fill="#111" color="#111">−1.0</text>
<line x1="494.00" y1="770.34" x2="495.50" y2="770.34" stroke="#444" stroke-width="1.0"/>
<text x="492.20" y="773.94" font-size="11.5" text-anchor="end" fill="#111" color="#111">−1.5</text>
<line x1="494.00" y1="786.36" x2="495.50" y2="786.36" stroke="#444" stroke-width="1.0"/>
<text x="492.20" y="789.96" font-size="11.5" text-anchor="end" fill="#111" color="#111">−2.0</text>
<line x1="494.00" y1="802.38" x2="495.50" y2="802.38" stroke="#444" stroke-width="1.0"/>
<text x="492.20" y="805.98" font-size="11.5" text-anchor="end" fill="#111" color="#111">−2.5</text>
<line x1="494.50" y1="682.26" x2="495.50" y2="682.26" stroke="#444" stroke-width="0.8"/>
<line x1="494.50" y1="698.28" x2="495.50" y2="698.28" stroke="#444" stroke-width="0.8"/>
<line x1="494.50" y1="714.29" x2="495.50" y2="714.29" stroke="#444" stroke-width="0.8"/>
<line x1="494.50" y1="730.31" x2="495.50" y2="730.31" stroke="#444" stroke-width="0.8"/>
<line x1="494.50" y1="746.32" x2="495.50" y2="746.32" stroke="#444" stroke-width="0.8"/>
<line x1="494.50" y1="762.34" x2="495.50" y2="762.34" stroke="#444" stroke-width="0.8"/>
<line x1="494.50" y1="778.35" x2="495.50" y2="778.35" stroke="#444" stroke-width="0.8"/>
<line x1="494.50" y1="794.37" x2="495.50" y2="794.37" stroke="#444" stroke-width="0.8"/>
<line x1="495.50" y1="802.40" x2="663.50" y2="802.40" stroke="#444" stroke-width="1.0"/>
<line x1="523.40" y1="802.40" x2="523.40" y2="805.50" stroke="#444" stroke-width="1.0"/>
<line x1="579.30" y1="802.40" x2="579.30" y2="805.50" stroke="#444" stroke-width="1.0"/>
<line x1="635.20" y1="802.40" x2="635.20" y2="805.50" stroke="#444" stroke-width="1.0"/>
<line x1="495.80" y1="722.30" x2="663.00" y2="722.30" stroke="#111" stroke-width="1.5" stroke-dasharray="3.2 5.30"/>
<line x1="523.40" y1="724.70" x2="523.40" y2="736.60" stroke="#444" stroke-width="2.3"/>
<circle cx="523.40" cy="726.90" r="1.3" fill="#fff"/>
<line x1="579.30" y1="729.90" x2="579.30" y2="761.10" stroke="#444" stroke-width="2.3"/>
<circle cx="579.30" cy="743.20" r="1.3" fill="#fff"/>
<line x1="635.20" y1="726.90" x2="635.20" y2="765.60" stroke="#444" stroke-width="2.3"/>
<circle cx="635.20" cy="742.50" r="1.3" fill="#fff"/>
<text x="525.80" y="734.20" font-size="11.5" text-anchor="start" fill="#111" color="#111">-0.144</text>
<text x="581.70" y="746.60" font-size="11.5" text-anchor="start" fill="#111" color="#111">-0.649</text>
<text x="636.90" y="746.60" font-size="11.5" text-anchor="start" fill="#111" color="#111">-0.628</text>
<path d="M523.40 664.60 V662.00 H635.20 V664.60" fill="none" stroke="#444" stroke-width="0.9"/>
<path d="M579.30 681.10 V678.50 H635.20 V681.10" fill="none" stroke="#444" stroke-width="0.9"/>
<text x="580.00" y="658.30" font-size="11.5" text-anchor="middle" fill="#111" color="#111">&lt;1.0E-200</text>
<text x="607.00" y="675.00" font-size="11.5" text-anchor="middle" fill="#111" color="#111">5.1E-01</text>
<text x="463.40" y="740.80" font-size="11.1" text-anchor="middle" fill="#111" color="#111" transform="rotate(-90 463.40 740.80)">Pol II retention index</text>
<text x="526.00" y="814.00" font-size="11.5" text-anchor="end" fill="#111" color="#111" transform="rotate(-30 526.00 814.00)"><tspan font-style="italic">UVSSA</tspan>-KO</text>
<text x="537.00" y="824.50" font-size="11.5" text-anchor="end" fill="#111" color="#111" transform="rotate(-30 537.00 824.50)">+p97i</text>
<text x="583.50" y="815.50" font-size="11.5" text-anchor="end" fill="#111" color="#111" transform="rotate(-30 583.50 815.50)">Ctrl</text>
<text x="639.50" y="814.00" font-size="11.5" text-anchor="end" fill="#111" color="#111" transform="rotate(-30 639.50 814.00)">Ctrl +p97i</text></svg>
</body></html>
